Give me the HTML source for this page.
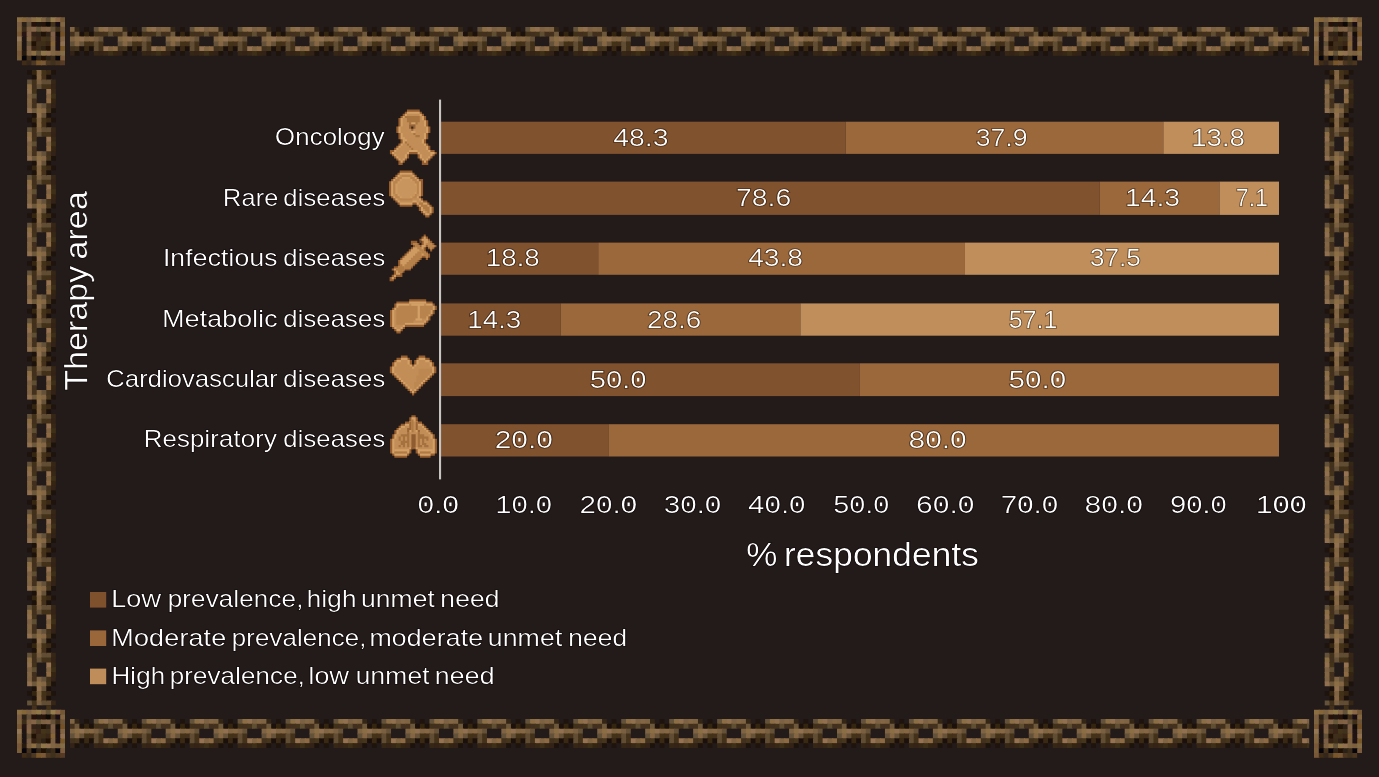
<!DOCTYPE html>
<html><head><meta charset="utf-8"><title>Therapy area chart</title>
<style>
html,body{margin:0;padding:0;background:#231a1a;}
body{width:1379px;height:777px;overflow:hidden;position:relative;}
svg{position:absolute;left:0;top:0;display:block;}
text{font-family:"Liberation Sans",sans-serif;fill:#ffffff;stroke:#0c0606;stroke-opacity:.45;stroke-width:1.3px;paint-order:stroke;}
</style></head><body>
<svg width="1379" height="777" viewBox="0 0 1379 777">
<rect x="0" y="0" width="1379" height="777" fill="#231a1a"/>
<defs>
<g id="ch"><path d="M0 0H5.8V4.8H4.8V5.8H0z" fill="#7f6444"/><path d="M4.8 0H9.6V4.8H9.6V5.8H4.8z" fill="#342614"/><path d="M14.4 0H19.2V4.8H19.2V5.8H14.4z" fill="#1e140d"/><path d="M24 0H29.8V4.8H28.8V5.8H24z" fill="#635139"/><path d="M28.8 0H34.6V4.8H33.6V5.8H28.8z" fill="#8b6e44"/><path d="M33.6 0H39.4V4.8H38.4V5.8H33.6z" fill="#90704f"/><path d="M38.4 0H44.2V4.8H43.2V5.8H38.4z" fill="#7c6142"/><path d="M43.2 0H49V4.8H48V5.8H43.2z" fill="#836643"/><path d="M0 4.8H5.8V9.6H4.8V10.6H0z" fill="#43301d"/><path d="M4.8 4.8H10.6V9.6H9.6V10.6H4.8z" fill="#6e583c"/><path d="M9.6 4.8H15.4V9.6H14.4V10.6H9.6z" fill="#1c120b"/><path d="M14.4 4.8H20.2V9.6H19.2V10.6H14.4z" fill="#342511"/><path d="M19.2 4.8H25V9.6H24V10.6H19.2z" fill="#1c120b"/><path d="M24 4.8H29.8V9.6H28.8V10.6H24z" fill="#42311a"/><path d="M28.8 4.8H34.6V9.6H33.6V10.6H28.8z" fill="#432f1d"/><path d="M33.6 4.8H39.4V9.6H38.4V9.6H33.6z" fill="#43331b"/><path d="M38.4 4.8H44.2V9.6H43.2V9.6H38.4z" fill="#604e33"/><path d="M43.2 4.8H49V9.6H48V9.6H43.2z" fill="#432f1d"/><path d="M0 9.6H5.8V14.4H4.8V15.4H0z" fill="#7f6444"/><path d="M4.8 9.6H10.6V14.4H9.6V15.4H4.8z" fill="#8b6e44"/><path d="M9.6 9.6H15.4V14.4H14.4V15.4H9.6z" fill="#90704f"/><path d="M14.4 9.6H20.2V14.4H19.2V15.4H14.4z" fill="#816542"/><path d="M19.2 9.6H25V14.4H24V15.4H19.2z" fill="#866743"/><path d="M24 9.6H29.8V14.4H28.8V15.4H24z" fill="#7a6041"/><path d="M28.8 9.6H33.6V14.4H33.6V15.4H28.8z" fill="#645138"/><path d="M0 14.4H5.8V19.2H4.8V20.2H0z" fill="#63513a"/><path d="M4.8 14.4H10.6V19.2H9.6V20.2H4.8z" fill="#846644"/><path d="M9.6 14.4H15.4V19.2H14.4V20.2H9.6z" fill="#665239"/><path d="M14.4 14.4H20.2V19.2H19.2V20.2H14.4z" fill="#433218"/><path d="M19.2 14.4H25V19.2H24V20.2H19.2z" fill="#44301b"/><path d="M24 14.4H29.8V19.2H28.8V20.2H24z" fill="#604d34"/><path d="M28.8 14.4H33.6V19.2H33.6V20.2H28.8z" fill="#433219"/><path d="M0 19.2H5.8V24H4.8V25H0z" fill="#40301c"/><path d="M4.8 19.2H10.6V24H9.6V25H4.8z" fill="#44351c"/><path d="M9.6 19.2H15.4V24H14.4V24H9.6z" fill="#1c110a"/><path d="M14.4 19.2H20.2V24H19.2V25H14.4z" fill="#392914"/><path d="M19.2 19.2H25V24H24V24H19.2z" fill="#1c110a"/><path d="M24 19.2H29.8V24H28.8V25H24z" fill="#604d34"/><path d="M28.8 19.2H34.6V24H33.6V25H28.8z" fill="#433219"/><path d="M33.6 19.2H39.4V24H38.4V25H33.6z" fill="#947252"/><path d="M38.4 19.2H44.2V24H43.2V25H38.4z" fill="#816542"/><path d="M43.2 19.2H49V24H48V25H43.2z" fill="#8c6a44"/><path d="M0 24H5.8V28.8H4.8V28.8H0z" fill="#322217"/><path d="M4.8 24H9.6V28.8H9.6V28.8H4.8z" fill="#1c130c"/><path d="M14.4 24H19.2V28.8H19.2V28.8H14.4z" fill="#1e140d"/><path d="M24 24H29.8V28.8H28.8V28.8H24z" fill="#352616"/><path d="M28.8 24H34.6V28.8H33.6V28.8H28.8z" fill="#342316"/><path d="M33.6 24H39.4V28.8H38.4V28.8H33.6z" fill="#372816"/><path d="M38.4 24H44.2V28.8H43.2V28.8H38.4z" fill="#3e3018"/><path d="M43.2 24H49V28.8H48V28.8H43.2z" fill="#342512"/></g>
<g id="cv"><path d="M0 0H5.8V4.8H4.8V5.8H0z" fill="#7f6444"/><path d="M0 4.8H5.8V9.6H4.8V9.6H0z" fill="#90704f"/><path d="M0 14.4H5.8V19.2H4.8V19.2H0z" fill="#1e140d"/><path d="M0 24H5.8V28.8H4.8V29.8H0z" fill="#635139"/><path d="M0 28.8H5.8V33.6H4.8V34.6H0z" fill="#8b6e44"/><path d="M0 33.6H5.8V38.4H4.8V39.4H0z" fill="#90704f"/><path d="M0 38.4H5.8V43.2H4.8V44.2H0z" fill="#7c6142"/><path d="M0 43.2H5.8V48H4.8V49H0z" fill="#836643"/><path d="M4.8 0H10.6V4.8H9.6V5.8H4.8z" fill="#43301d"/><path d="M4.8 4.8H10.6V9.6H9.6V10.6H4.8z" fill="#6e583c"/><path d="M4.8 9.6H10.6V14.4H9.6V15.4H4.8z" fill="#1c120b"/><path d="M4.8 14.4H10.6V19.2H9.6V20.2H4.8z" fill="#342511"/><path d="M4.8 19.2H10.6V24H9.6V25H4.8z" fill="#1c120b"/><path d="M4.8 24H10.6V28.8H9.6V29.8H4.8z" fill="#42311a"/><path d="M4.8 28.8H10.6V33.6H9.6V34.6H4.8z" fill="#432f1d"/><path d="M4.8 33.6H9.6V38.4H9.6V39.4H4.8z" fill="#43331b"/><path d="M4.8 38.4H9.6V43.2H9.6V44.2H4.8z" fill="#604e33"/><path d="M4.8 43.2H9.6V48H9.6V49H4.8z" fill="#432f1d"/><path d="M9.6 0H15.4V4.8H14.4V5.8H9.6z" fill="#7f6444"/><path d="M9.6 4.8H15.4V9.6H14.4V10.6H9.6z" fill="#8b6e44"/><path d="M9.6 9.6H15.4V14.4H14.4V15.4H9.6z" fill="#90704f"/><path d="M9.6 14.4H15.4V19.2H14.4V20.2H9.6z" fill="#816542"/><path d="M9.6 19.2H15.4V24H14.4V25H9.6z" fill="#866743"/><path d="M9.6 24H15.4V28.8H14.4V29.8H9.6z" fill="#7a6041"/><path d="M9.6 28.8H15.4V33.6H14.4V33.6H9.6z" fill="#645138"/><path d="M14.4 0H20.2V4.8H19.2V5.8H14.4z" fill="#63513a"/><path d="M14.4 4.8H20.2V9.6H19.2V10.6H14.4z" fill="#846644"/><path d="M14.4 9.6H20.2V14.4H19.2V15.4H14.4z" fill="#665239"/><path d="M14.4 14.4H20.2V19.2H19.2V20.2H14.4z" fill="#433218"/><path d="M14.4 19.2H20.2V24H19.2V25H14.4z" fill="#44301b"/><path d="M14.4 24H20.2V28.8H19.2V29.8H14.4z" fill="#604d34"/><path d="M14.4 28.8H20.2V33.6H19.2V33.6H14.4z" fill="#433219"/><path d="M19.2 0H25V4.8H24V5.8H19.2z" fill="#40301c"/><path d="M19.2 4.8H25V9.6H24V10.6H19.2z" fill="#44351c"/><path d="M19.2 9.6H24V14.4H24V15.4H19.2z" fill="#1c110a"/><path d="M19.2 14.4H25V19.2H24V20.2H19.2z" fill="#392914"/><path d="M19.2 19.2H24V24H24V25H19.2z" fill="#1c110a"/><path d="M19.2 24H25V28.8H24V29.8H19.2z" fill="#604d34"/><path d="M19.2 28.8H25V33.6H24V34.6H19.2z" fill="#433219"/><path d="M19.2 33.6H25V38.4H24V39.4H19.2z" fill="#947252"/><path d="M19.2 38.4H25V43.2H24V44.2H19.2z" fill="#816542"/><path d="M19.2 43.2H25V48H24V49H19.2z" fill="#8c6a44"/><path d="M24 0H28.8V4.8H28.8V5.8H24z" fill="#322217"/><path d="M24 4.8H28.8V9.6H28.8V9.6H24z" fill="#1c130c"/><path d="M24 14.4H28.8V19.2H28.8V19.2H24z" fill="#1e140d"/><path d="M24 24H28.8V28.8H28.8V29.8H24z" fill="#352616"/><path d="M24 28.8H28.8V33.6H28.8V34.6H24z" fill="#342316"/><path d="M24 33.6H28.8V38.4H28.8V39.4H24z" fill="#372816"/><path d="M24 38.4H28.8V43.2H28.8V44.2H24z" fill="#3e3018"/><path d="M24 43.2H28.8V48H28.8V49H24z" fill="#342512"/></g>
<g id="cl"><path d="M0 0H5.8V4.8H4.8V5.8H0z" fill="#8c6e43"/><path d="M4.8 0H10.6V4.8H9.6V5.8H4.8z" fill="#846639"/><path d="M9.6 0H15.4V4.8H14.4V5.8H9.6z" fill="#7c6142"/><path d="M14.4 0H20.2V4.8H19.2V5.8H14.4z" fill="#8c6e46"/><path d="M19.2 0H25V4.8H24V5.8H19.2z" fill="#907748"/><path d="M24 0H29.8V4.8H28.8V5.8H24z" fill="#816544"/><path d="M28.8 0H34.6V4.8H33.6V5.8H28.8z" fill="#645238"/><path d="M33.6 0H39.4V4.8H38.4V5.8H33.6z" fill="#947c4d"/><path d="M38.4 0H44.2V4.8H43.2V5.8H38.4z" fill="#8b6748"/><path d="M43.2 0H48V4.8H48V5.8H43.2z" fill="#735734"/><path d="M0 4.8H5.8V9.6H4.8V10.6H0z" fill="#7c5f43"/><path d="M4.8 4.8H10.6V9.6H9.6V10.6H4.8z" fill="#2d2217"/><path d="M9.6 4.8H15.4V9.6H14.4V10.6H9.6z" fill="#62513a"/><path d="M14.4 4.8H20.2V9.6H19.2V10.6H14.4z" fill="#26120b"/><path d="M19.2 4.8H25V9.6H24V10.6H19.2z" fill="#201710"/><path d="M24 4.8H29.8V9.6H28.8V10.6H24z" fill="#26130b"/><path d="M28.8 4.8H34.6V9.6H33.6V10.6H28.8z" fill="#0c0906"/><path d="M33.6 4.8H39.4V9.6H38.4V10.6H33.6z" fill="#43311c"/><path d="M38.4 4.8H44.2V9.6H43.2V10.6H38.4z" fill="#1a0e16"/><path d="M43.2 4.8H48V9.6H48V10.6H43.2z" fill="#816641"/><path d="M0 9.6H5.8V14.4H4.8V15.4H0z" fill="#7d633e"/><path d="M4.8 9.6H10.6V14.4H9.6V15.4H4.8z" fill="#3b2b19"/><path d="M9.6 9.6H15.4V14.4H14.4V15.4H9.6z" fill="#7c5f41"/><path d="M14.4 9.6H20.2V14.4H19.2V15.4H14.4z" fill="#856547"/><path d="M19.2 9.6H25V14.4H24V15.4H19.2z" fill="#685639"/><path d="M24 9.6H29.8V14.4H28.8V15.4H24z" fill="#7e6042"/><path d="M28.8 9.6H34.6V14.4H33.6V15.4H28.8z" fill="#826346"/><path d="M33.6 9.6H39.4V14.4H38.4V15.4H33.6z" fill="#645138"/><path d="M38.4 9.6H44.2V14.4H43.2V15.4H38.4z" fill="#3f2f1a"/><path d="M43.2 9.6H48V14.4H48V15.4H43.2z" fill="#6e5436"/><path d="M0 14.4H5.8V19.2H4.8V20.2H0z" fill="#795834"/><path d="M4.8 14.4H10.6V19.2H9.6V20.2H4.8z" fill="#261512"/><path d="M9.6 14.4H15.4V19.2H14.4V20.2H9.6z" fill="#816148"/><path d="M14.4 14.4H20.2V19.2H19.2V20.2H14.4z" fill="#342316"/><path d="M19.2 14.4H25V19.2H24V20.2H19.2z" fill="#302317"/><path d="M24 14.4H29.8V19.2H28.8V20.2H24z" fill="#201206"/><path d="M28.8 14.4H34.6V19.2H33.6V20.2H28.8z" fill="#2e2217"/><path d="M33.6 14.4H39.4V19.2H38.4V20.2H33.6z" fill="#816148"/><path d="M38.4 14.4H44.2V19.2H43.2V20.2H38.4z" fill="#130e0a"/><path d="M43.2 14.4H48V19.2H48V20.2H43.2z" fill="#735026"/><path d="M0 19.2H5.8V24H4.8V25H0z" fill="#947856"/><path d="M4.8 19.2H10.6V24H9.6V25H4.8z" fill="#1f1614"/><path d="M9.6 19.2H15.4V24H14.4V25H9.6z" fill="#846544"/><path d="M14.4 19.2H20.2V24H19.2V25H14.4z" fill="#42301c"/><path d="M19.2 19.2H25V24H24V25H19.2z" fill="#3a2418"/><path d="M24 19.2H29.8V24H28.8V25H24z" fill="#443419"/><path d="M28.8 19.2H34.6V24H33.6V25H28.8z" fill="#3f311b"/><path d="M33.6 19.2H39.4V24H38.4V25H33.6z" fill="#7d5f41"/><path d="M38.4 19.2H44.2V24H43.2V25H38.4z" fill="#1e1214"/><path d="M43.2 19.2H48V24H48V25H43.2z" fill="#816542"/><path d="M0 24H5.8V28.8H4.8V29.8H0z" fill="#846843"/><path d="M4.8 24H10.6V28.8H9.6V29.8H4.8z" fill="#1d1414"/><path d="M9.6 24H15.4V28.8H14.4V29.8H9.6z" fill="#645238"/><path d="M14.4 24H20.2V28.8H19.2V29.8H14.4z" fill="#201104"/><path d="M19.2 24H25V28.8H24V29.8H19.2z" fill="#3f2e1b"/><path d="M24 24H29.8V28.8H28.8V29.8H24z" fill="#3e2e17"/><path d="M28.8 24H34.6V28.8H33.6V29.8H28.8z" fill="#3a2617"/><path d="M33.6 24H39.4V28.8H38.4V29.8H33.6z" fill="#866539"/><path d="M38.4 24H44.2V28.8H43.2V29.8H38.4z" fill="#1e1214"/><path d="M43.2 24H48V28.8H48V29.8H43.2z" fill="#90704f"/><path d="M0 28.8H5.8V33.6H4.8V34.6H0z" fill="#81653f"/><path d="M4.8 28.8H10.6V33.6H9.6V34.6H4.8z" fill="#1d1414"/><path d="M9.6 28.8H15.4V33.6H14.4V34.6H9.6z" fill="#795e43"/><path d="M14.4 28.8H20.2V33.6H19.2V34.6H14.4z" fill="#352215"/><path d="M19.2 28.8H25V33.6H24V34.6H19.2z" fill="#3b2b17"/><path d="M24 28.8H29.8V33.6H28.8V34.6H24z" fill="#2e2217"/><path d="M28.8 28.8H34.6V33.6H33.6V34.6H28.8z" fill="#201104"/><path d="M33.6 28.8H39.4V33.6H38.4V34.6H33.6z" fill="#7c6142"/><path d="M38.4 28.8H44.2V33.6H43.2V34.6H38.4z" fill="#1e1214"/><path d="M43.2 28.8H48V33.6H48V34.6H43.2z" fill="#795829"/><path d="M0 33.6H5.8V38.4H4.8V39.4H0z" fill="#795839"/><path d="M4.8 33.6H10.6V38.4H9.6V39.4H4.8z" fill="#26190e"/><path d="M9.6 33.6H15.4V38.4H14.4V39.4H9.6z" fill="#7c6142"/><path d="M14.4 33.6H20.2V38.4H19.2V39.4H14.4z" fill="#8c6e43"/><path d="M19.2 33.6H25V38.4H24V39.4H19.2z" fill="#645238"/><path d="M24 33.6H29.8V38.4H28.8V39.4H24z" fill="#907548"/><path d="M28.8 33.6H34.6V38.4H33.6V39.4H28.8z" fill="#90704f"/><path d="M33.6 33.6H39.4V38.4H38.4V39.4H33.6z" fill="#816644"/><path d="M38.4 33.6H44.2V38.4H43.2V39.4H38.4z" fill="#7c5f3d"/><path d="M43.2 33.6H48V38.4H48V39.4H43.2z" fill="#846c46"/><path d="M0 38.4H5.8V43.2H4.8V43.2H0z" fill="#795e39"/><path d="M4.8 38.4H10.6V43.2H9.6V44.2H4.8z" fill="#07050c"/><path d="M9.6 38.4H15.4V43.2H14.4V44.2H9.6z" fill="#43311c"/><path d="M14.4 38.4H20.2V43.2H19.2V44.2H14.4z" fill="#07050c"/><path d="M19.2 38.4H25V43.2H24V44.2H19.2z" fill="#302317"/><path d="M24 38.4H29.8V43.2H28.8V44.2H24z" fill="#201104"/><path d="M28.8 38.4H34.6V43.2H33.6V44.2H28.8z" fill="#2a2217"/><path d="M33.6 38.4H39.4V43.2H38.4V44.2H33.6z" fill="#3b2b19"/><path d="M38.4 38.4H44.2V43.2H43.2V44.2H38.4z" fill="#07050c"/><path d="M43.2 38.4H48V43.2H48V44.2H43.2z" fill="#7c5c3d"/><path d="M4.8 43.2H10.6V48H9.6V48H4.8z" fill="#402c17"/><path d="M9.6 43.2H15.4V48H14.4V48H9.6z" fill="#34261b"/><path d="M14.4 43.2H20.2V48H19.2V48H14.4z" fill="#4c3721"/><path d="M19.2 43.2H25V48H24V48H19.2z" fill="#79562a"/><path d="M24 43.2H29.8V48H28.8V48H24z" fill="#795836"/><path d="M28.8 43.2H34.6V48H33.6V48H28.8z" fill="#4c361f"/><path d="M33.6 43.2H39.4V48H38.4V48H33.6z" fill="#3f311c"/><path d="M38.4 43.2H44.2V48H43.2V48H38.4z" fill="#4c361f"/><path d="M43.2 43.2H48V48H48V48H43.2z" fill="#563a24"/></g>
<g id="cr"><path d="M0 0H5.8V4.8H4.8V5.8H0z" fill="#8c6e43"/><path d="M4.8 0H10.6V4.8H9.6V5.8H4.8z" fill="#846639"/><path d="M9.6 0H15.4V4.8H14.4V5.8H9.6z" fill="#7c6142"/><path d="M14.4 0H20.2V4.8H19.2V5.8H14.4z" fill="#8c6e46"/><path d="M19.2 0H25V4.8H24V5.8H19.2z" fill="#907748"/><path d="M24 0H29.8V4.8H28.8V5.8H24z" fill="#816544"/><path d="M28.8 0H34.6V4.8H33.6V5.8H28.8z" fill="#645238"/><path d="M33.6 0H39.4V4.8H38.4V5.8H33.6z" fill="#947c4d"/><path d="M38.4 0H44.2V4.8H43.2V5.8H38.4z" fill="#8b6748"/><path d="M43.2 0H48V4.8H48V5.8H43.2z" fill="#735734"/><path d="M0 4.8H5.8V9.6H4.8V10.6H0z" fill="#7c5f43"/><path d="M4.8 4.8H10.6V9.6H9.6V10.6H4.8z" fill="#2d2217"/><path d="M9.6 4.8H15.4V9.6H14.4V10.6H9.6z" fill="#62513a"/><path d="M14.4 4.8H20.2V9.6H19.2V10.6H14.4z" fill="#26120b"/><path d="M19.2 4.8H25V9.6H24V10.6H19.2z" fill="#201710"/><path d="M24 4.8H29.8V9.6H28.8V10.6H24z" fill="#26130b"/><path d="M28.8 4.8H34.6V9.6H33.6V10.6H28.8z" fill="#0c0906"/><path d="M33.6 4.8H39.4V9.6H38.4V10.6H33.6z" fill="#43311c"/><path d="M38.4 4.8H44.2V9.6H43.2V10.6H38.4z" fill="#1a0e16"/><path d="M43.2 4.8H48V9.6H48V10.6H43.2z" fill="#816641"/><path d="M0 9.6H5.8V14.4H4.8V15.4H0z" fill="#7d633e"/><path d="M4.8 9.6H10.6V14.4H9.6V15.4H4.8z" fill="#3b2b19"/><path d="M9.6 9.6H15.4V14.4H14.4V15.4H9.6z" fill="#7c5f41"/><path d="M14.4 9.6H20.2V14.4H19.2V15.4H14.4z" fill="#856547"/><path d="M19.2 9.6H25V14.4H24V15.4H19.2z" fill="#685639"/><path d="M24 9.6H29.8V14.4H28.8V15.4H24z" fill="#7e6042"/><path d="M28.8 9.6H34.6V14.4H33.6V15.4H28.8z" fill="#826346"/><path d="M33.6 9.6H39.4V14.4H38.4V15.4H33.6z" fill="#645138"/><path d="M38.4 9.6H44.2V14.4H43.2V15.4H38.4z" fill="#3f2f1a"/><path d="M43.2 9.6H48V14.4H48V15.4H43.2z" fill="#6e5436"/><path d="M0 14.4H5.8V19.2H4.8V20.2H0z" fill="#795834"/><path d="M4.8 14.4H10.6V19.2H9.6V20.2H4.8z" fill="#261512"/><path d="M9.6 14.4H15.4V19.2H14.4V20.2H9.6z" fill="#816148"/><path d="M14.4 14.4H20.2V19.2H19.2V20.2H14.4z" fill="#342316"/><path d="M19.2 14.4H25V19.2H24V20.2H19.2z" fill="#302317"/><path d="M24 14.4H29.8V19.2H28.8V20.2H24z" fill="#201206"/><path d="M28.8 14.4H34.6V19.2H33.6V20.2H28.8z" fill="#2e2217"/><path d="M33.6 14.4H39.4V19.2H38.4V20.2H33.6z" fill="#816148"/><path d="M38.4 14.4H44.2V19.2H43.2V20.2H38.4z" fill="#130e0a"/><path d="M43.2 14.4H48V19.2H48V20.2H43.2z" fill="#735026"/><path d="M0 19.2H5.8V24H4.8V25H0z" fill="#947856"/><path d="M4.8 19.2H10.6V24H9.6V25H4.8z" fill="#1f1614"/><path d="M9.6 19.2H15.4V24H14.4V25H9.6z" fill="#846544"/><path d="M14.4 19.2H20.2V24H19.2V25H14.4z" fill="#42301c"/><path d="M19.2 19.2H25V24H24V25H19.2z" fill="#3a2418"/><path d="M24 19.2H29.8V24H28.8V25H24z" fill="#443419"/><path d="M28.8 19.2H34.6V24H33.6V25H28.8z" fill="#3f311b"/><path d="M33.6 19.2H39.4V24H38.4V25H33.6z" fill="#7d5f41"/><path d="M38.4 19.2H44.2V24H43.2V25H38.4z" fill="#1e1214"/><path d="M43.2 19.2H48V24H48V25H43.2z" fill="#816542"/><path d="M0 24H5.8V28.8H4.8V29.8H0z" fill="#846843"/><path d="M4.8 24H10.6V28.8H9.6V29.8H4.8z" fill="#1d1414"/><path d="M9.6 24H15.4V28.8H14.4V29.8H9.6z" fill="#645238"/><path d="M14.4 24H20.2V28.8H19.2V29.8H14.4z" fill="#201104"/><path d="M19.2 24H25V28.8H24V29.8H19.2z" fill="#3f2e1b"/><path d="M24 24H29.8V28.8H28.8V29.8H24z" fill="#3e2e17"/><path d="M28.8 24H34.6V28.8H33.6V29.8H28.8z" fill="#3a2617"/><path d="M33.6 24H39.4V28.8H38.4V29.8H33.6z" fill="#866539"/><path d="M38.4 24H44.2V28.8H43.2V29.8H38.4z" fill="#1e1214"/><path d="M43.2 24H48V28.8H48V29.8H43.2z" fill="#90704f"/><path d="M0 28.8H5.8V33.6H4.8V34.6H0z" fill="#81653f"/><path d="M4.8 28.8H10.6V33.6H9.6V34.6H4.8z" fill="#1d1414"/><path d="M9.6 28.8H15.4V33.6H14.4V34.6H9.6z" fill="#795e43"/><path d="M14.4 28.8H20.2V33.6H19.2V34.6H14.4z" fill="#352215"/><path d="M19.2 28.8H25V33.6H24V34.6H19.2z" fill="#3b2b17"/><path d="M24 28.8H29.8V33.6H28.8V34.6H24z" fill="#2e2217"/><path d="M28.8 28.8H34.6V33.6H33.6V34.6H28.8z" fill="#201104"/><path d="M33.6 28.8H39.4V33.6H38.4V34.6H33.6z" fill="#7c6142"/><path d="M38.4 28.8H44.2V33.6H43.2V34.6H38.4z" fill="#1e1214"/><path d="M43.2 28.8H48V33.6H48V34.6H43.2z" fill="#795829"/><path d="M0 33.6H5.8V38.4H4.8V39.4H0z" fill="#795839"/><path d="M4.8 33.6H10.6V38.4H9.6V39.4H4.8z" fill="#26190e"/><path d="M9.6 33.6H15.4V38.4H14.4V39.4H9.6z" fill="#7c6142"/><path d="M14.4 33.6H20.2V38.4H19.2V39.4H14.4z" fill="#8c6e43"/><path d="M19.2 33.6H25V38.4H24V39.4H19.2z" fill="#645238"/><path d="M24 33.6H29.8V38.4H28.8V39.4H24z" fill="#907548"/><path d="M28.8 33.6H34.6V38.4H33.6V39.4H28.8z" fill="#90704f"/><path d="M33.6 33.6H39.4V38.4H38.4V39.4H33.6z" fill="#816644"/><path d="M38.4 33.6H44.2V38.4H43.2V39.4H38.4z" fill="#7c5f3d"/><path d="M43.2 33.6H48V38.4H48V39.4H43.2z" fill="#846c46"/><path d="M0 38.4H5.8V43.2H4.8V44.2H0z" fill="#795e39"/><path d="M4.8 38.4H10.6V43.2H9.6V44.2H4.8z" fill="#07050c"/><path d="M9.6 38.4H15.4V43.2H14.4V44.2H9.6z" fill="#43311c"/><path d="M14.4 38.4H20.2V43.2H19.2V44.2H14.4z" fill="#07050c"/><path d="M19.2 38.4H25V43.2H24V44.2H19.2z" fill="#302317"/><path d="M24 38.4H29.8V43.2H28.8V44.2H24z" fill="#201104"/><path d="M28.8 38.4H34.6V43.2H33.6V44.2H28.8z" fill="#2a2217"/><path d="M33.6 38.4H39.4V43.2H38.4V44.2H33.6z" fill="#3b2b19"/><path d="M38.4 38.4H44.2V43.2H43.2V44.2H38.4z" fill="#07050c"/><path d="M43.2 38.4H48V43.2H48V43.2H43.2z" fill="#7c5c3d"/><path d="M0 43.2H5.8V48H4.8V48H0z" fill="#795839"/><path d="M4.8 43.2H10.6V48H9.6V48H4.8z" fill="#402c17"/><path d="M9.6 43.2H15.4V48H14.4V48H9.6z" fill="#34261b"/><path d="M14.4 43.2H20.2V48H19.2V48H14.4z" fill="#4c3721"/><path d="M19.2 43.2H25V48H24V48H19.2z" fill="#79562a"/><path d="M24 43.2H29.8V48H28.8V48H24z" fill="#795836"/><path d="M28.8 43.2H34.6V48H33.6V48H28.8z" fill="#4c361f"/><path d="M33.6 43.2H39.4V48H38.4V48H33.6z" fill="#3f311c"/><path d="M38.4 43.2H43.2V48H43.2V48H38.4z" fill="#4c361f"/></g>
<clipPath id="kh"><rect x="69.8" y="0" width="1239.4" height="777"/></clipPath>
<clipPath id="kv"><rect x="0" y="69.9" width="1379" height="635.4"/></clipPath>
</defs>
<g id="border">
<g clip-path="url(#kh)"><use href="#ch" transform="translate(69.8,26.9) scale(0.99896,1.006)"/><use href="#ch" transform="translate(117.75,26.9) scale(0.99896,1.006)"/><use href="#ch" transform="translate(165.7,26.9) scale(0.99896,1.006)"/><use href="#ch" transform="translate(213.65,26.9) scale(0.99896,1.006)"/><use href="#ch" transform="translate(261.6,26.9) scale(0.99896,1.006)"/><use href="#ch" transform="translate(309.55,26.9) scale(0.99896,1.006)"/><use href="#ch" transform="translate(357.5,26.9) scale(0.99896,1.006)"/><use href="#ch" transform="translate(405.45,26.9) scale(0.99896,1.006)"/><use href="#ch" transform="translate(453.4,26.9) scale(0.99896,1.006)"/><use href="#ch" transform="translate(501.35,26.9) scale(0.99896,1.006)"/><use href="#ch" transform="translate(549.3,26.9) scale(0.99896,1.006)"/><use href="#ch" transform="translate(597.25,26.9) scale(0.99896,1.006)"/><use href="#ch" transform="translate(645.2,26.9) scale(0.99896,1.006)"/><use href="#ch" transform="translate(693.15,26.9) scale(0.99896,1.006)"/><use href="#ch" transform="translate(741.1,26.9) scale(0.99896,1.006)"/><use href="#ch" transform="translate(789.05,26.9) scale(0.99896,1.006)"/><use href="#ch" transform="translate(837,26.9) scale(0.99896,1.006)"/><use href="#ch" transform="translate(884.95,26.9) scale(0.99896,1.006)"/><use href="#ch" transform="translate(932.9,26.9) scale(0.99896,1.006)"/><use href="#ch" transform="translate(980.85,26.9) scale(0.99896,1.006)"/><use href="#ch" transform="translate(1028.8,26.9) scale(0.99896,1.006)"/><use href="#ch" transform="translate(1076.75,26.9) scale(0.99896,1.006)"/><use href="#ch" transform="translate(1124.7,26.9) scale(0.99896,1.006)"/><use href="#ch" transform="translate(1172.65,26.9) scale(0.99896,1.006)"/><use href="#ch" transform="translate(1220.6,26.9) scale(0.99896,1.006)"/><use href="#ch" transform="translate(1268.55,26.9) scale(0.99896,1.006)"/></g>
<g clip-path="url(#kh)"><use href="#ch" transform="translate(69.8,719) scale(0.99896,1.006)"/><use href="#ch" transform="translate(117.75,719) scale(0.99896,1.006)"/><use href="#ch" transform="translate(165.7,719) scale(0.99896,1.006)"/><use href="#ch" transform="translate(213.65,719) scale(0.99896,1.006)"/><use href="#ch" transform="translate(261.6,719) scale(0.99896,1.006)"/><use href="#ch" transform="translate(309.55,719) scale(0.99896,1.006)"/><use href="#ch" transform="translate(357.5,719) scale(0.99896,1.006)"/><use href="#ch" transform="translate(405.45,719) scale(0.99896,1.006)"/><use href="#ch" transform="translate(453.4,719) scale(0.99896,1.006)"/><use href="#ch" transform="translate(501.35,719) scale(0.99896,1.006)"/><use href="#ch" transform="translate(549.3,719) scale(0.99896,1.006)"/><use href="#ch" transform="translate(597.25,719) scale(0.99896,1.006)"/><use href="#ch" transform="translate(645.2,719) scale(0.99896,1.006)"/><use href="#ch" transform="translate(693.15,719) scale(0.99896,1.006)"/><use href="#ch" transform="translate(741.1,719) scale(0.99896,1.006)"/><use href="#ch" transform="translate(789.05,719) scale(0.99896,1.006)"/><use href="#ch" transform="translate(837,719) scale(0.99896,1.006)"/><use href="#ch" transform="translate(884.95,719) scale(0.99896,1.006)"/><use href="#ch" transform="translate(932.9,719) scale(0.99896,1.006)"/><use href="#ch" transform="translate(980.85,719) scale(0.99896,1.006)"/><use href="#ch" transform="translate(1028.8,719) scale(0.99896,1.006)"/><use href="#ch" transform="translate(1076.75,719) scale(0.99896,1.006)"/><use href="#ch" transform="translate(1124.7,719) scale(0.99896,1.006)"/><use href="#ch" transform="translate(1172.65,719) scale(0.99896,1.006)"/><use href="#ch" transform="translate(1220.6,719) scale(0.99896,1.006)"/><use href="#ch" transform="translate(1268.55,719) scale(0.99896,1.006)"/></g>
<g clip-path="url(#kv)"><use href="#cv" transform="translate(27.1,55.57) scale(1,0.99542)"/><use href="#cv" transform="translate(27.1,103.35) scale(1,0.99542)"/><use href="#cv" transform="translate(27.1,151.13) scale(1,0.99542)"/><use href="#cv" transform="translate(27.1,198.91) scale(1,0.99542)"/><use href="#cv" transform="translate(27.1,246.69) scale(1,0.99542)"/><use href="#cv" transform="translate(27.1,294.47) scale(1,0.99542)"/><use href="#cv" transform="translate(27.1,342.25) scale(1,0.99542)"/><use href="#cv" transform="translate(27.1,390.03) scale(1,0.99542)"/><use href="#cv" transform="translate(27.1,437.81) scale(1,0.99542)"/><use href="#cv" transform="translate(27.1,485.59) scale(1,0.99542)"/><use href="#cv" transform="translate(27.1,533.37) scale(1,0.99542)"/><use href="#cv" transform="translate(27.1,581.15) scale(1,0.99542)"/><use href="#cv" transform="translate(27.1,628.93) scale(1,0.99542)"/><use href="#cv" transform="translate(27.1,676.71) scale(1,0.99542)"/></g>
<g><rect x="31.9" y="705.3" width="4.8" height="4.4" fill="#43301d"/><rect x="46.3" y="705.3" width="4.8" height="4.4" fill="#433219"/></g>
<g clip-path="url(#kv)"><use href="#cv" transform="translate(1324.7,55.57) scale(1,0.99542)"/><use href="#cv" transform="translate(1324.7,103.35) scale(1,0.99542)"/><use href="#cv" transform="translate(1324.7,151.13) scale(1,0.99542)"/><use href="#cv" transform="translate(1324.7,198.91) scale(1,0.99542)"/><use href="#cv" transform="translate(1324.7,246.69) scale(1,0.99542)"/><use href="#cv" transform="translate(1324.7,294.47) scale(1,0.99542)"/><use href="#cv" transform="translate(1324.7,342.25) scale(1,0.99542)"/><use href="#cv" transform="translate(1324.7,390.03) scale(1,0.99542)"/><use href="#cv" transform="translate(1324.7,437.81) scale(1,0.99542)"/><use href="#cv" transform="translate(1324.7,485.59) scale(1,0.99542)"/><use href="#cv" transform="translate(1324.7,533.37) scale(1,0.99542)"/><use href="#cv" transform="translate(1324.7,581.15) scale(1,0.99542)"/><use href="#cv" transform="translate(1324.7,628.93) scale(1,0.99542)"/><use href="#cv" transform="translate(1324.7,676.71) scale(1,0.99542)"/></g>
<g><rect x="1329.5" y="705.3" width="4.8" height="4.4" fill="#43301d"/><rect x="1343.9" y="705.3" width="4.8" height="4.4" fill="#433219"/></g>
<use href="#cl" x="17" y="17.25"/><use href="#cr" x="1314" y="17.25"/><use href="#cl" x="17" y="709.8"/><use href="#cr" x="1314" y="709.8"/>
</g>
<g id="bars">
<rect x="440.8" y="121.7" width="404.85" height="32.2" fill="#80522e"/><rect x="845.65" y="121.7" width="317.68" height="32.2" fill="#9b683b"/><rect x="1163.33" y="121.7" width="115.67" height="32.2" fill="#bf8e5b"/>
<rect x="440.8" y="181.6" width="658.83" height="33.3" fill="#80522e"/><rect x="1099.63" y="181.6" width="119.86" height="33.3" fill="#9b683b"/><rect x="1219.49" y="181.6" width="59.51" height="33.3" fill="#bf8e5b"/>
<rect x="440.8" y="242.6" width="157.42" height="32.2" fill="#80522e"/><rect x="598.22" y="242.6" width="366.76" height="32.2" fill="#9b683b"/><rect x="964.99" y="242.6" width="314.01" height="32.2" fill="#bf8e5b"/>
<rect x="440.8" y="303.4" width="119.86" height="32.3" fill="#80522e"/><rect x="560.66" y="303.4" width="239.73" height="32.3" fill="#9b683b"/><rect x="800.39" y="303.4" width="478.61" height="32.3" fill="#bf8e5b"/>
<rect x="440.8" y="363.3" width="419.1" height="32.8" fill="#80522e"/><rect x="859.9" y="363.3" width="419.1" height="32.8" fill="#9b683b"/>
<rect x="440.8" y="424.2" width="167.64" height="32.3" fill="#80522e"/><rect x="608.44" y="424.2" width="670.56" height="32.3" fill="#9b683b"/>
</g>
<rect x="439" y="99.6" width="2.1" height="379.8" fill="#c6c3c0"/>
<g id="labels" opacity="0.999">
<text x="275" y="145" font-size="24" textLength="109.5" lengthAdjust="spacingAndGlyphs" style="fill:none">Oncology</text><clipPath id="kcat0"><text x="275.12" y="145" font-size="24" textLength="109.5" lengthAdjust="spacingAndGlyphs" style="stroke:none">Oncology</text></clipPath><g clip-path="url(#kcat0)"><text id="cat0" x="274.88" y="145" font-size="24" textLength="109.5" lengthAdjust="spacingAndGlyphs" style="stroke:none">Oncology</text></g>
<text x="222.9" y="205.6" font-size="24" textLength="55.4" lengthAdjust="spacingAndGlyphs" style="fill:none">Rare</text><clipPath id="kcat1"><text x="223.02" y="205.6" font-size="24" textLength="55.4" lengthAdjust="spacingAndGlyphs" style="stroke:none">Rare</text></clipPath><g clip-path="url(#kcat1)"><text id="cat1" x="222.77" y="205.6" font-size="24" textLength="55.4" lengthAdjust="spacingAndGlyphs" style="stroke:none">Rare</text></g>
<text x="283.2" y="205.6" font-size="24" textLength="102" lengthAdjust="spacingAndGlyphs" style="fill:none">diseases</text><clipPath id="kdis1"><text x="283.32" y="205.6" font-size="24" textLength="102" lengthAdjust="spacingAndGlyphs" style="stroke:none">diseases</text></clipPath><g clip-path="url(#kdis1)"><text id="dis1" x="283.07" y="205.6" font-size="24" textLength="102" lengthAdjust="spacingAndGlyphs" style="stroke:none">diseases</text></g>
<text x="162.8" y="265.6" font-size="24" textLength="114.8" lengthAdjust="spacingAndGlyphs" style="fill:none">Infectious</text><clipPath id="kcat2"><text x="162.93" y="265.6" font-size="24" textLength="114.8" lengthAdjust="spacingAndGlyphs" style="stroke:none">Infectious</text></clipPath><g clip-path="url(#kcat2)"><text id="cat2" x="162.68" y="265.6" font-size="24" textLength="114.8" lengthAdjust="spacingAndGlyphs" style="stroke:none">Infectious</text></g>
<text x="283.2" y="265.6" font-size="24" textLength="102" lengthAdjust="spacingAndGlyphs" style="fill:none">diseases</text><clipPath id="kdis2"><text x="283.32" y="265.6" font-size="24" textLength="102" lengthAdjust="spacingAndGlyphs" style="stroke:none">diseases</text></clipPath><g clip-path="url(#kdis2)"><text id="dis2" x="283.07" y="265.6" font-size="24" textLength="102" lengthAdjust="spacingAndGlyphs" style="stroke:none">diseases</text></g>
<text x="162.2" y="326.6" font-size="24" textLength="115.3" lengthAdjust="spacingAndGlyphs" style="fill:none">Metabolic</text><clipPath id="kcat3"><text x="162.33" y="326.6" font-size="24" textLength="115.3" lengthAdjust="spacingAndGlyphs" style="stroke:none">Metabolic</text></clipPath><g clip-path="url(#kcat3)"><text id="cat3" x="162.08" y="326.6" font-size="24" textLength="115.3" lengthAdjust="spacingAndGlyphs" style="stroke:none">Metabolic</text></g>
<text x="283.2" y="326.6" font-size="24" textLength="102" lengthAdjust="spacingAndGlyphs" style="fill:none">diseases</text><clipPath id="kdis3"><text x="283.32" y="326.6" font-size="24" textLength="102" lengthAdjust="spacingAndGlyphs" style="stroke:none">diseases</text></clipPath><g clip-path="url(#kdis3)"><text id="dis3" x="283.07" y="326.6" font-size="24" textLength="102" lengthAdjust="spacingAndGlyphs" style="stroke:none">diseases</text></g>
<text x="106.2" y="387.2" font-size="24" textLength="171.5" lengthAdjust="spacingAndGlyphs" style="fill:none">Cardiovascular</text><clipPath id="kcat4"><text x="106.32" y="387.2" font-size="24" textLength="171.5" lengthAdjust="spacingAndGlyphs" style="stroke:none">Cardiovascular</text></clipPath><g clip-path="url(#kcat4)"><text id="cat4" x="106.07" y="387.2" font-size="24" textLength="171.5" lengthAdjust="spacingAndGlyphs" style="stroke:none">Cardiovascular</text></g>
<text x="283.2" y="387.2" font-size="24" textLength="102" lengthAdjust="spacingAndGlyphs" style="fill:none">diseases</text><clipPath id="kdis4"><text x="283.32" y="387.2" font-size="24" textLength="102" lengthAdjust="spacingAndGlyphs" style="stroke:none">diseases</text></clipPath><g clip-path="url(#kdis4)"><text id="dis4" x="283.07" y="387.2" font-size="24" textLength="102" lengthAdjust="spacingAndGlyphs" style="stroke:none">diseases</text></g>
<text x="143.6" y="447.2" font-size="24" textLength="133.3" lengthAdjust="spacingAndGlyphs" style="fill:none">Respiratory</text><clipPath id="kcat5"><text x="143.72" y="447.2" font-size="24" textLength="133.3" lengthAdjust="spacingAndGlyphs" style="stroke:none">Respiratory</text></clipPath><g clip-path="url(#kcat5)"><text id="cat5" x="143.47" y="447.2" font-size="24" textLength="133.3" lengthAdjust="spacingAndGlyphs" style="stroke:none">Respiratory</text></g>
<text x="283.2" y="447.2" font-size="24" textLength="102" lengthAdjust="spacingAndGlyphs" style="fill:none">diseases</text><clipPath id="kdis5"><text x="283.32" y="447.2" font-size="24" textLength="102" lengthAdjust="spacingAndGlyphs" style="stroke:none">diseases</text></clipPath><g clip-path="url(#kdis5)"><text id="dis5" x="283.07" y="447.2" font-size="24" textLength="102" lengthAdjust="spacingAndGlyphs" style="stroke:none">diseases</text></g>
<text x="613.2" y="145.6" font-size="24" textLength="55.3" lengthAdjust="spacingAndGlyphs" style="fill:none">48.3</text><clipPath id="kv0_0"><text x="613.43" y="145.6" font-size="24" textLength="55.3" lengthAdjust="spacingAndGlyphs" style="stroke:none">48.3</text></clipPath><g clip-path="url(#kv0_0)"><text id="v0_0" x="612.98" y="145.6" font-size="24" textLength="55.3" lengthAdjust="spacingAndGlyphs" style="stroke:none">48.3</text></g>
<text x="975.8" y="145.6" font-size="24" textLength="51.8" lengthAdjust="spacingAndGlyphs" style="fill:none">37.9</text><clipPath id="kv0_1"><text x="976.02" y="145.6" font-size="24" textLength="51.8" lengthAdjust="spacingAndGlyphs" style="stroke:none">37.9</text></clipPath><g clip-path="url(#kv0_1)"><text id="v0_1" x="975.57" y="145.6" font-size="24" textLength="51.8" lengthAdjust="spacingAndGlyphs" style="stroke:none">37.9</text></g>
<text x="1191.2" y="145.6" font-size="24" textLength="53.7" lengthAdjust="spacingAndGlyphs" style="fill:none">13.8</text><clipPath id="kv0_2"><text x="1191.42" y="145.6" font-size="24" textLength="53.7" lengthAdjust="spacingAndGlyphs" style="stroke:none">13.8</text></clipPath><g clip-path="url(#kv0_2)"><text id="v0_2" x="1190.98" y="145.6" font-size="24" textLength="53.7" lengthAdjust="spacingAndGlyphs" style="stroke:none">13.8</text></g>
<text x="736.1" y="206.4" font-size="24" textLength="55.1" lengthAdjust="spacingAndGlyphs" style="fill:none">78.6</text><clipPath id="kv1_0"><text x="736.33" y="206.4" font-size="24" textLength="55.1" lengthAdjust="spacingAndGlyphs" style="stroke:none">78.6</text></clipPath><g clip-path="url(#kv1_0)"><text id="v1_0" x="735.88" y="206.4" font-size="24" textLength="55.1" lengthAdjust="spacingAndGlyphs" style="stroke:none">78.6</text></g>
<text x="1125" y="206.4" font-size="24" textLength="55" lengthAdjust="spacingAndGlyphs" style="fill:none">14.3</text><clipPath id="kv1_1"><text x="1125.22" y="206.4" font-size="24" textLength="55" lengthAdjust="spacingAndGlyphs" style="stroke:none">14.3</text></clipPath><g clip-path="url(#kv1_1)"><text id="v1_1" x="1124.78" y="206.4" font-size="24" textLength="55" lengthAdjust="spacingAndGlyphs" style="stroke:none">14.3</text></g>
<text x="1235.7" y="206.4" font-size="24" textLength="32.3" lengthAdjust="spacingAndGlyphs" style="fill:none">7.1</text><clipPath id="kv1_2"><text x="1235.92" y="206.4" font-size="24" textLength="32.3" lengthAdjust="spacingAndGlyphs" style="stroke:none">7.1</text></clipPath><g clip-path="url(#kv1_2)"><text id="v1_2" x="1235.47" y="206.4" font-size="24" textLength="32.3" lengthAdjust="spacingAndGlyphs" style="stroke:none">7.1</text></g>
<text x="485.8" y="266.4" font-size="24" textLength="54" lengthAdjust="spacingAndGlyphs" style="fill:none">18.8</text><clipPath id="kv2_0"><text x="486.03" y="266.4" font-size="24" textLength="54" lengthAdjust="spacingAndGlyphs" style="stroke:none">18.8</text></clipPath><g clip-path="url(#kv2_0)"><text id="v2_0" x="485.57" y="266.4" font-size="24" textLength="54" lengthAdjust="spacingAndGlyphs" style="stroke:none">18.8</text></g>
<text x="748.2" y="266.4" font-size="24" textLength="54.8" lengthAdjust="spacingAndGlyphs" style="fill:none">43.8</text><clipPath id="kv2_1"><text x="748.43" y="266.4" font-size="24" textLength="54.8" lengthAdjust="spacingAndGlyphs" style="stroke:none">43.8</text></clipPath><g clip-path="url(#kv2_1)"><text id="v2_1" x="747.98" y="266.4" font-size="24" textLength="54.8" lengthAdjust="spacingAndGlyphs" style="stroke:none">43.8</text></g>
<text x="1089.9" y="266.4" font-size="24" textLength="50.9" lengthAdjust="spacingAndGlyphs" style="fill:none">37.5</text><clipPath id="kv2_2"><text x="1090.12" y="266.4" font-size="24" textLength="50.9" lengthAdjust="spacingAndGlyphs" style="stroke:none">37.5</text></clipPath><g clip-path="url(#kv2_2)"><text id="v2_2" x="1089.68" y="266.4" font-size="24" textLength="50.9" lengthAdjust="spacingAndGlyphs" style="stroke:none">37.5</text></g>
<text x="467.2" y="327.5" font-size="24" textLength="54.1" lengthAdjust="spacingAndGlyphs" style="fill:none">14.3</text><clipPath id="kv3_0"><text x="467.43" y="327.5" font-size="24" textLength="54.1" lengthAdjust="spacingAndGlyphs" style="stroke:none">14.3</text></clipPath><g clip-path="url(#kv3_0)"><text id="v3_0" x="466.97" y="327.5" font-size="24" textLength="54.1" lengthAdjust="spacingAndGlyphs" style="stroke:none">14.3</text></g>
<text x="647" y="327.5" font-size="24" textLength="54.2" lengthAdjust="spacingAndGlyphs" style="fill:none">28.6</text><clipPath id="kv3_1"><text x="647.23" y="327.5" font-size="24" textLength="54.2" lengthAdjust="spacingAndGlyphs" style="stroke:none">28.6</text></clipPath><g clip-path="url(#kv3_1)"><text id="v3_1" x="646.77" y="327.5" font-size="24" textLength="54.2" lengthAdjust="spacingAndGlyphs" style="stroke:none">28.6</text></g>
<text x="1008.8" y="327.5" font-size="24" textLength="48.5" lengthAdjust="spacingAndGlyphs" style="fill:none">57.1</text><clipPath id="kv3_2"><text x="1009.03" y="327.5" font-size="24" textLength="48.5" lengthAdjust="spacingAndGlyphs" style="stroke:none">57.1</text></clipPath><g clip-path="url(#kv3_2)"><text id="v3_2" x="1008.58" y="327.5" font-size="24" textLength="48.5" lengthAdjust="spacingAndGlyphs" style="stroke:none">57.1</text></g>
<text x="589.7" y="388.3" font-size="24" textLength="56.8" lengthAdjust="spacingAndGlyphs" style="fill:none">50.0</text><clipPath id="kv4_0"><text x="589.92" y="388.3" font-size="24" textLength="56.8" lengthAdjust="spacingAndGlyphs" style="stroke:none">50.0</text></clipPath><g clip-path="url(#kv4_0)"><text id="v4_0" x="589.47" y="388.3" font-size="24" textLength="56.8" lengthAdjust="spacingAndGlyphs" style="stroke:none">50.0</text></g>
<text x="1008.6" y="388.3" font-size="24" textLength="57.5" lengthAdjust="spacingAndGlyphs" style="fill:none">50.0</text><clipPath id="kv4_1"><text x="1008.83" y="388.3" font-size="24" textLength="57.5" lengthAdjust="spacingAndGlyphs" style="stroke:none">50.0</text></clipPath><g clip-path="url(#kv4_1)"><text id="v4_1" x="1008.38" y="388.3" font-size="24" textLength="57.5" lengthAdjust="spacingAndGlyphs" style="stroke:none">50.0</text></g>
<text x="494.7" y="448.3" font-size="24" textLength="58.2" lengthAdjust="spacingAndGlyphs" style="fill:none">20.0</text><clipPath id="kv5_0"><text x="494.93" y="448.3" font-size="24" textLength="58.2" lengthAdjust="spacingAndGlyphs" style="stroke:none">20.0</text></clipPath><g clip-path="url(#kv5_0)"><text id="v5_0" x="494.47" y="448.3" font-size="24" textLength="58.2" lengthAdjust="spacingAndGlyphs" style="stroke:none">20.0</text></g>
<text x="908.6" y="448.3" font-size="24" textLength="58.1" lengthAdjust="spacingAndGlyphs" style="fill:none">80.0</text><clipPath id="kv5_1"><text x="908.82" y="448.3" font-size="24" textLength="58.1" lengthAdjust="spacingAndGlyphs" style="stroke:none">80.0</text></clipPath><g clip-path="url(#kv5_1)"><text id="v5_1" x="908.37" y="448.3" font-size="24" textLength="58.1" lengthAdjust="spacingAndGlyphs" style="stroke:none">80.0</text></g>
<text x="417.6" y="512.9" font-size="24" textLength="41.3" lengthAdjust="spacingAndGlyphs" style="fill:none">0.0</text><clipPath id="kt0"><text x="417.83" y="512.9" font-size="24" textLength="41.3" lengthAdjust="spacingAndGlyphs" style="stroke:none">0.0</text></clipPath><g clip-path="url(#kt0)"><text id="t0" x="417.38" y="512.9" font-size="24" textLength="41.3" lengthAdjust="spacingAndGlyphs" style="stroke:none">0.0</text></g>
<text x="495.2" y="512.9" font-size="24" textLength="56.9" lengthAdjust="spacingAndGlyphs" style="fill:none">10.0</text><clipPath id="kt1"><text x="495.43" y="512.9" font-size="24" textLength="56.9" lengthAdjust="spacingAndGlyphs" style="stroke:none">10.0</text></clipPath><g clip-path="url(#kt1)"><text id="t1" x="494.97" y="512.9" font-size="24" textLength="56.9" lengthAdjust="spacingAndGlyphs" style="stroke:none">10.0</text></g>
<text x="579.5" y="512.9" font-size="24" textLength="57.6" lengthAdjust="spacingAndGlyphs" style="fill:none">20.0</text><clipPath id="kt2"><text x="579.73" y="512.9" font-size="24" textLength="57.6" lengthAdjust="spacingAndGlyphs" style="stroke:none">20.0</text></clipPath><g clip-path="url(#kt2)"><text id="t2" x="579.27" y="512.9" font-size="24" textLength="57.6" lengthAdjust="spacingAndGlyphs" style="stroke:none">20.0</text></g>
<text x="663.8" y="512.9" font-size="24" textLength="57.5" lengthAdjust="spacingAndGlyphs" style="fill:none">30.0</text><clipPath id="kt3"><text x="664.02" y="512.9" font-size="24" textLength="57.5" lengthAdjust="spacingAndGlyphs" style="stroke:none">30.0</text></clipPath><g clip-path="url(#kt3)"><text id="t3" x="663.57" y="512.9" font-size="24" textLength="57.5" lengthAdjust="spacingAndGlyphs" style="stroke:none">30.0</text></g>
<text x="748.1" y="512.9" font-size="24" textLength="57.4" lengthAdjust="spacingAndGlyphs" style="fill:none">40.0</text><clipPath id="kt4"><text x="748.33" y="512.9" font-size="24" textLength="57.4" lengthAdjust="spacingAndGlyphs" style="stroke:none">40.0</text></clipPath><g clip-path="url(#kt4)"><text id="t4" x="747.88" y="512.9" font-size="24" textLength="57.4" lengthAdjust="spacingAndGlyphs" style="stroke:none">40.0</text></g>
<text x="833.3" y="512.9" font-size="24" textLength="56" lengthAdjust="spacingAndGlyphs" style="fill:none">50.0</text><clipPath id="kt5"><text x="833.52" y="512.9" font-size="24" textLength="56" lengthAdjust="spacingAndGlyphs" style="stroke:none">50.0</text></clipPath><g clip-path="url(#kt5)"><text id="t5" x="833.07" y="512.9" font-size="24" textLength="56" lengthAdjust="spacingAndGlyphs" style="stroke:none">50.0</text></g>
<text x="916.1" y="512.9" font-size="24" textLength="58.3" lengthAdjust="spacingAndGlyphs" style="fill:none">60.0</text><clipPath id="kt6"><text x="916.33" y="512.9" font-size="24" textLength="58.3" lengthAdjust="spacingAndGlyphs" style="stroke:none">60.0</text></clipPath><g clip-path="url(#kt6)"><text id="t6" x="915.88" y="512.9" font-size="24" textLength="58.3" lengthAdjust="spacingAndGlyphs" style="stroke:none">60.0</text></g>
<text x="1000.7" y="512.9" font-size="24" textLength="57.5" lengthAdjust="spacingAndGlyphs" style="fill:none">70.0</text><clipPath id="kt7"><text x="1000.93" y="512.9" font-size="24" textLength="57.5" lengthAdjust="spacingAndGlyphs" style="stroke:none">70.0</text></clipPath><g clip-path="url(#kt7)"><text id="t7" x="1000.48" y="512.9" font-size="24" textLength="57.5" lengthAdjust="spacingAndGlyphs" style="stroke:none">70.0</text></g>
<text x="1084.6" y="512.9" font-size="24" textLength="58.4" lengthAdjust="spacingAndGlyphs" style="fill:none">80.0</text><clipPath id="kt8"><text x="1084.83" y="512.9" font-size="24" textLength="58.4" lengthAdjust="spacingAndGlyphs" style="stroke:none">80.0</text></clipPath><g clip-path="url(#kt8)"><text id="t8" x="1084.38" y="512.9" font-size="24" textLength="58.4" lengthAdjust="spacingAndGlyphs" style="stroke:none">80.0</text></g>
<text x="1170" y="512.9" font-size="24" textLength="56.7" lengthAdjust="spacingAndGlyphs" style="fill:none">90.0</text><clipPath id="kt9"><text x="1170.22" y="512.9" font-size="24" textLength="56.7" lengthAdjust="spacingAndGlyphs" style="stroke:none">90.0</text></clipPath><g clip-path="url(#kt9)"><text id="t9" x="1169.78" y="512.9" font-size="24" textLength="56.7" lengthAdjust="spacingAndGlyphs" style="stroke:none">90.0</text></g>
<text x="1255.7" y="512.9" font-size="24" textLength="50.9" lengthAdjust="spacingAndGlyphs" style="fill:none">100</text><clipPath id="kt10"><text x="1255.92" y="512.9" font-size="24" textLength="50.9" lengthAdjust="spacingAndGlyphs" style="stroke:none">100</text></clipPath><g clip-path="url(#kt10)"><text id="t10" x="1255.48" y="512.9" font-size="24" textLength="50.9" lengthAdjust="spacingAndGlyphs" style="stroke:none">100</text></g>
<text x="746.2" y="566.2" font-size="32.4" textLength="31.3" lengthAdjust="spacingAndGlyphs" style="fill:none">%</text><clipPath id="kxt0"><text x="746.33" y="566.2" font-size="32.4" textLength="31.3" lengthAdjust="spacingAndGlyphs" style="stroke:none">%</text></clipPath><g clip-path="url(#kxt0)"><text id="xt0" x="746.08" y="566.2" font-size="32.4" textLength="31.3" lengthAdjust="spacingAndGlyphs" style="stroke:none">%</text></g>
<text x="783.8" y="566.2" font-size="32.4" textLength="195.2" lengthAdjust="spacingAndGlyphs" style="fill:none">respondents</text><clipPath id="kxt1"><text x="783.92" y="566.2" font-size="32.4" textLength="195.2" lengthAdjust="spacingAndGlyphs" style="stroke:none">respondents</text></clipPath><g clip-path="url(#kxt1)"><text id="xt1" x="783.67" y="566.2" font-size="32.4" textLength="195.2" lengthAdjust="spacingAndGlyphs" style="stroke:none">respondents</text></g>
<rect x="90" y="592" width="16.2" height="15.6" fill="#80522e"/><text x="111.1" y="607" font-size="23.4" textLength="50" lengthAdjust="spacingAndGlyphs" style="fill:none">Low</text><clipPath id="klg0_0"><text x="111.22" y="607" font-size="23.4" textLength="50" lengthAdjust="spacingAndGlyphs" style="stroke:none">Low</text></clipPath><g clip-path="url(#klg0_0)"><text id="lg0_0" x="110.97" y="607" font-size="23.4" textLength="50" lengthAdjust="spacingAndGlyphs" style="stroke:none">Low</text></g>
<text x="167.6" y="607" font-size="23.4" textLength="135.8" lengthAdjust="spacingAndGlyphs" style="fill:none">prevalence,</text><clipPath id="klg0_1"><text x="167.72" y="607" font-size="23.4" textLength="135.8" lengthAdjust="spacingAndGlyphs" style="stroke:none">prevalence,</text></clipPath><g clip-path="url(#klg0_1)"><text id="lg0_1" x="167.47" y="607" font-size="23.4" textLength="135.8" lengthAdjust="spacingAndGlyphs" style="stroke:none">prevalence,</text></g>
<text x="306.7" y="607" font-size="23.4" textLength="49.7" lengthAdjust="spacingAndGlyphs" style="fill:none">high</text><clipPath id="klg0_2"><text x="306.83" y="607" font-size="23.4" textLength="49.7" lengthAdjust="spacingAndGlyphs" style="stroke:none">high</text></clipPath><g clip-path="url(#klg0_2)"><text id="lg0_2" x="306.58" y="607" font-size="23.4" textLength="49.7" lengthAdjust="spacingAndGlyphs" style="stroke:none">high</text></g>
<text x="360.8" y="607" font-size="23.4" textLength="74.1" lengthAdjust="spacingAndGlyphs" style="fill:none">unmet</text><clipPath id="klg0_3"><text x="360.92" y="607" font-size="23.4" textLength="74.1" lengthAdjust="spacingAndGlyphs" style="stroke:none">unmet</text></clipPath><g clip-path="url(#klg0_3)"><text id="lg0_3" x="360.67" y="607" font-size="23.4" textLength="74.1" lengthAdjust="spacingAndGlyphs" style="stroke:none">unmet</text></g>
<text x="440.2" y="607" font-size="23.4" textLength="59.4" lengthAdjust="spacingAndGlyphs" style="fill:none">need</text><clipPath id="klg0_4"><text x="440.32" y="607" font-size="23.4" textLength="59.4" lengthAdjust="spacingAndGlyphs" style="stroke:none">need</text></clipPath><g clip-path="url(#klg0_4)"><text id="lg0_4" x="440.07" y="607" font-size="23.4" textLength="59.4" lengthAdjust="spacingAndGlyphs" style="stroke:none">need</text></g>
<rect x="90" y="630.4" width="16.2" height="15.6" fill="#9b683b"/><text x="111.2" y="645.5" font-size="23.4" textLength="115" lengthAdjust="spacingAndGlyphs" style="fill:none">Moderate</text><clipPath id="klg1_0"><text x="111.32" y="645.5" font-size="23.4" textLength="115" lengthAdjust="spacingAndGlyphs" style="stroke:none">Moderate</text></clipPath><g clip-path="url(#klg1_0)"><text id="lg1_0" x="111.07" y="645.5" font-size="23.4" textLength="115" lengthAdjust="spacingAndGlyphs" style="stroke:none">Moderate</text></g>
<text x="231.6" y="645.5" font-size="23.4" textLength="134.8" lengthAdjust="spacingAndGlyphs" style="fill:none">prevalence,</text><clipPath id="klg1_1"><text x="231.73" y="645.5" font-size="23.4" textLength="134.8" lengthAdjust="spacingAndGlyphs" style="stroke:none">prevalence,</text></clipPath><g clip-path="url(#klg1_1)"><text id="lg1_1" x="231.48" y="645.5" font-size="23.4" textLength="134.8" lengthAdjust="spacingAndGlyphs" style="stroke:none">prevalence,</text></g>
<text x="369.3" y="645.5" font-size="23.4" textLength="113.8" lengthAdjust="spacingAndGlyphs" style="fill:none">moderate</text><clipPath id="klg1_2"><text x="369.42" y="645.5" font-size="23.4" textLength="113.8" lengthAdjust="spacingAndGlyphs" style="stroke:none">moderate</text></clipPath><g clip-path="url(#klg1_2)"><text id="lg1_2" x="369.17" y="645.5" font-size="23.4" textLength="113.8" lengthAdjust="spacingAndGlyphs" style="stroke:none">moderate</text></g>
<text x="487.6" y="645.5" font-size="23.4" textLength="74.7" lengthAdjust="spacingAndGlyphs" style="fill:none">unmet</text><clipPath id="klg1_3"><text x="487.73" y="645.5" font-size="23.4" textLength="74.7" lengthAdjust="spacingAndGlyphs" style="stroke:none">unmet</text></clipPath><g clip-path="url(#klg1_3)"><text id="lg1_3" x="487.48" y="645.5" font-size="23.4" textLength="74.7" lengthAdjust="spacingAndGlyphs" style="stroke:none">unmet</text></g>
<text x="568.1" y="645.5" font-size="23.4" textLength="59.1" lengthAdjust="spacingAndGlyphs" style="fill:none">need</text><clipPath id="klg1_4"><text x="568.23" y="645.5" font-size="23.4" textLength="59.1" lengthAdjust="spacingAndGlyphs" style="stroke:none">need</text></clipPath><g clip-path="url(#klg1_4)"><text id="lg1_4" x="567.98" y="645.5" font-size="23.4" textLength="59.1" lengthAdjust="spacingAndGlyphs" style="stroke:none">need</text></g>
<rect x="90" y="668.6" width="16.2" height="15.6" fill="#bf8e5b"/><text x="111.3" y="684" font-size="23.4" textLength="53.9" lengthAdjust="spacingAndGlyphs" style="fill:none">High</text><clipPath id="klg2_0"><text x="111.42" y="684" font-size="23.4" textLength="53.9" lengthAdjust="spacingAndGlyphs" style="stroke:none">High</text></clipPath><g clip-path="url(#klg2_0)"><text id="lg2_0" x="111.17" y="684" font-size="23.4" textLength="53.9" lengthAdjust="spacingAndGlyphs" style="stroke:none">High</text></g>
<text x="169.6" y="684" font-size="23.4" textLength="135.3" lengthAdjust="spacingAndGlyphs" style="fill:none">prevalence,</text><clipPath id="klg2_1"><text x="169.72" y="684" font-size="23.4" textLength="135.3" lengthAdjust="spacingAndGlyphs" style="stroke:none">prevalence,</text></clipPath><g clip-path="url(#klg2_1)"><text id="lg2_1" x="169.47" y="684" font-size="23.4" textLength="135.3" lengthAdjust="spacingAndGlyphs" style="stroke:none">prevalence,</text></g>
<text x="308.3" y="684" font-size="23.4" textLength="40.7" lengthAdjust="spacingAndGlyphs" style="fill:none">low</text><clipPath id="klg2_2"><text x="308.43" y="684" font-size="23.4" textLength="40.7" lengthAdjust="spacingAndGlyphs" style="stroke:none">low</text></clipPath><g clip-path="url(#klg2_2)"><text id="lg2_2" x="308.18" y="684" font-size="23.4" textLength="40.7" lengthAdjust="spacingAndGlyphs" style="stroke:none">low</text></g>
<text x="355.6" y="684" font-size="23.4" textLength="73.9" lengthAdjust="spacingAndGlyphs" style="fill:none">unmet</text><clipPath id="klg2_3"><text x="355.73" y="684" font-size="23.4" textLength="73.9" lengthAdjust="spacingAndGlyphs" style="stroke:none">unmet</text></clipPath><g clip-path="url(#klg2_3)"><text id="lg2_3" x="355.48" y="684" font-size="23.4" textLength="73.9" lengthAdjust="spacingAndGlyphs" style="stroke:none">unmet</text></g>
<text x="434.7" y="684" font-size="23.4" textLength="59.8" lengthAdjust="spacingAndGlyphs" style="fill:none">need</text><clipPath id="klg2_4"><text x="434.82" y="684" font-size="23.4" textLength="59.8" lengthAdjust="spacingAndGlyphs" style="stroke:none">need</text></clipPath><g clip-path="url(#klg2_4)"><text id="lg2_4" x="434.57" y="684" font-size="23.4" textLength="59.8" lengthAdjust="spacingAndGlyphs" style="stroke:none">need</text></g>
<rect x="612.71" y="377.91" width="2.2" height="3.6" fill="#ffffff"/><rect x="637.05" y="377.91" width="2.2" height="3.6" fill="#ffffff"/><rect x="1031.92" y="377.91" width="2.2" height="3.6" fill="#ffffff"/><rect x="1056.56" y="377.91" width="2.2" height="3.6" fill="#ffffff"/><rect x="518.31" y="437.91" width="2.2" height="3.6" fill="#ffffff"/><rect x="543.25" y="437.91" width="2.2" height="3.6" fill="#ffffff"/><rect x="932.17" y="437.91" width="2.2" height="3.6" fill="#ffffff"/><rect x="957.06" y="437.91" width="2.2" height="3.6" fill="#ffffff"/><rect x="424.55" y="502.51" width="2.2" height="3.6" fill="#ffffff"/><rect x="449.31" y="502.51" width="2.2" height="3.6" fill="#ffffff"/><rect x="518.26" y="502.51" width="2.2" height="3.6" fill="#ffffff"/><rect x="542.63" y="502.51" width="2.2" height="3.6" fill="#ffffff"/><rect x="602.86" y="502.51" width="2.2" height="3.6" fill="#ffffff"/><rect x="627.53" y="502.51" width="2.2" height="3.6" fill="#ffffff"/><rect x="687.11" y="502.51" width="2.2" height="3.6" fill="#ffffff"/><rect x="711.75" y="502.51" width="2.2" height="3.6" fill="#ffffff"/><rect x="771.38" y="502.51" width="2.2" height="3.6" fill="#ffffff"/><rect x="795.97" y="502.51" width="2.2" height="3.6" fill="#ffffff"/><rect x="855.97" y="502.51" width="2.2" height="3.6" fill="#ffffff"/><rect x="879.96" y="502.51" width="2.2" height="3.6" fill="#ffffff"/><rect x="939.77" y="502.51" width="2.2" height="3.6" fill="#ffffff"/><rect x="964.74" y="502.51" width="2.2" height="3.6" fill="#ffffff"/><rect x="1024.02" y="502.51" width="2.2" height="3.6" fill="#ffffff"/><rect x="1048.66" y="502.51" width="2.2" height="3.6" fill="#ffffff"/><rect x="1108.31" y="502.51" width="2.2" height="3.6" fill="#ffffff"/><rect x="1133.33" y="502.51" width="2.2" height="3.6" fill="#ffffff"/><rect x="1192.98" y="502.51" width="2.2" height="3.6" fill="#ffffff"/><rect x="1217.27" y="502.51" width="2.2" height="3.6" fill="#ffffff"/><rect x="1279.83" y="502.51" width="2.2" height="3.6" fill="#ffffff"/><rect x="1296.79" y="502.51" width="2.2" height="3.6" fill="#ffffff"/>
<g transform="translate(87.1,0) rotate(-90)"><text x="-390.6" y="0" font-size="31.8" textLength="124.7" lengthAdjust="spacingAndGlyphs" style="fill:none">Therapy</text><clipPath id="kyt0"><text x="-390.48" y="0" font-size="31.8" textLength="124.7" lengthAdjust="spacingAndGlyphs" style="stroke:none">Therapy</text></clipPath><g clip-path="url(#kyt0)"><text id="yt0" x="-390.73" y="0" font-size="31.8" textLength="124.7" lengthAdjust="spacingAndGlyphs" style="stroke:none">Therapy</text></g>
<text x="-259.7" y="0" font-size="31.8" textLength="68.5" lengthAdjust="spacingAndGlyphs" style="fill:none">area</text><clipPath id="kyt1"><text x="-259.57" y="0" font-size="31.8" textLength="68.5" lengthAdjust="spacingAndGlyphs" style="stroke:none">area</text></clipPath><g clip-path="url(#kyt1)"><text id="yt1" x="-259.82" y="0" font-size="31.8" textLength="68.5" lengthAdjust="spacingAndGlyphs" style="stroke:none">area</text></g>
</g>
</g>
<g id="icons">
<path d="M406.94 109.5h12.78v2.13h-12.78zM404.81 111.63h17.04v2.13h-17.04zM402.68 113.76h21.3v2.13h-21.3zM400.55 115.89h25.56v2.13h-25.56zM398.42 118.02h27.69v2.13h-27.69zM398.42 120.15h29.82v2.13h-29.82zM398.42 122.28h29.82v2.13h-29.82zM398.42 124.41h29.82v2.13h-29.82zM396.29 126.54h34.08v2.13h-34.08zM396.29 128.67h34.08v2.13h-34.08zM396.29 130.8h34.08v2.13h-34.08zM398.42 132.93h29.82v2.13h-29.82zM398.42 135.06h29.82v2.13h-29.82zM398.42 137.19h29.82v2.13h-29.82zM400.55 139.32h25.56v2.13h-25.56zM400.55 141.45h25.56v2.13h-25.56zM398.42 143.58h29.82v2.13h-29.82zM396.29 145.71h34.08v2.13h-34.08zM394.16 147.84h36.21v2.13h-36.21zM389.9 149.97h44.73v2.13h-44.73zM389.9 152.1h46.86v2.13h-46.86zM392.03 154.23h17.04v2.13h-17.04zM417.59 154.23h17.04v2.13h-17.04zM394.16 156.36h14.91v2.13h-14.91zM417.59 156.36h14.91v2.13h-14.91zM396.29 158.49h10.65v2.13h-10.65zM419.72 158.49h10.65v2.13h-10.65zM398.42 160.62h6.39v2.13h-6.39zM421.85 160.62h6.39v2.13h-6.39zM398.42 162.75h4.26v2.13h-4.26zM421.85 162.75h6.39v2.13h-6.39z" fill="#955d2e"/><path d="M406.94 111.63h12.78v2.13h-12.78zM404.81 113.76h17.04v2.13h-17.04zM402.68 115.89h21.3v2.13h-21.3zM400.55 118.02h23.43v2.13h-23.43zM400.55 120.15h25.56v2.13h-25.56zM400.55 122.28h25.56v2.13h-25.56zM400.55 124.41h25.56v2.13h-25.56zM398.42 126.54h29.82v2.13h-29.82zM398.42 128.67h29.82v2.13h-29.82zM398.42 130.8h29.82v2.13h-29.82zM400.55 132.93h25.56v2.13h-25.56zM400.55 135.06h25.56v2.13h-25.56zM400.55 137.19h25.56v2.13h-25.56zM402.68 139.32h21.3v2.13h-21.3zM402.68 141.45h21.3v2.13h-21.3zM400.55 143.58h25.56v2.13h-25.56zM398.42 145.71h29.82v2.13h-29.82zM396.29 147.84h31.95v2.13h-31.95zM394.16 149.97h36.21v2.13h-36.21zM392.03 152.1h17.04v2.13h-17.04zM417.59 152.1h17.04v2.13h-17.04zM394.16 154.23h12.78v2.13h-12.78zM419.72 154.23h12.78v2.13h-12.78zM396.29 156.36h10.65v2.13h-10.65zM419.72 156.36h10.65v2.13h-10.65zM398.42 158.49h6.39v2.13h-6.39zM421.85 158.49h6.39v2.13h-6.39zM400.55 160.62h2.13v2.13h-2.13zM423.98 160.62h2.13v2.13h-2.13z" fill="#d3a168"/><path d="M406.94 113.76h12.78v2.13h-12.78zM404.81 115.89h17.04v2.13h-17.04zM402.68 118.02h19.17v2.13h-19.17zM402.68 120.15h21.3v2.13h-21.3zM402.68 122.28h21.3v2.13h-21.3zM402.68 124.41h21.3v2.13h-21.3zM400.55 126.54h25.56v2.13h-25.56zM400.55 128.67h25.56v2.13h-25.56zM400.55 130.8h25.56v2.13h-25.56zM402.68 132.93h21.3v2.13h-21.3zM402.68 135.06h21.3v2.13h-21.3zM402.68 137.19h21.3v2.13h-21.3zM404.81 139.32h17.04v2.13h-17.04zM404.81 141.45h17.04v2.13h-17.04zM402.68 143.58h21.3v2.13h-21.3zM400.55 145.71h25.56v2.13h-25.56zM398.42 147.84h27.69v2.13h-27.69zM396.29 149.97h12.78v2.13h-12.78zM417.59 149.97h10.65v2.13h-10.65zM394.16 152.1h12.78v2.13h-12.78zM419.72 152.1h10.65v2.13h-10.65zM396.29 154.23h8.52v2.13h-8.52zM421.85 154.23h8.52v2.13h-8.52zM398.42 156.36h6.39v2.13h-6.39zM421.85 156.36h6.39v2.13h-6.39zM400.55 158.49h2.13v2.13h-2.13zM423.98 158.49h2.13v2.13h-2.13z" fill="#c28d57"/><path d="M404.81 115.89h14.91v2.13h-14.91zM406.94 118.02h12.78v2.13h-12.78zM406.94 120.15h12.78v2.13h-12.78zM409.07 122.28h8.52v2.13h-8.52z" fill="#a87440"/><path d="M411.2 130.8h4.26v2.13h-4.26zM402.68 137.19h2.13v2.13h-2.13zM404.81 139.32h2.13v2.13h-2.13zM406.94 143.58h2.13v2.13h-2.13zM409.07 145.71h2.13v2.13h-2.13zM411.2 147.84h2.13v2.13h-2.13z" fill="#d3a168"/><path d="M413.33 132.93h2.13v2.13h-2.13zM415.46 135.06h4.26v2.13h-4.26zM404.81 141.45h2.13v2.13h-2.13zM406.94 143.58h2.13v2.13h-2.13zM409.07 145.71h2.13v2.13h-2.13zM411.2 147.84h2.13v2.13h-2.13z" fill="#a87440"/><path d="M411.2 122.28h4.26v2.13h-4.26z" fill="#d3a168"/><path d="M409.07 124.41h6.39v2.13h-6.39zM409.07 126.54h6.39v2.13h-6.39zM411.2 128.67h2.13v2.13h-2.13z" fill="#96643a"/><path d="M411.2 126.54h2.13v2.13h-2.13z" fill="#3b2518"/>
<path d="M399.65 170.6h12.78v2.13h-12.78zM397.52 172.73h17.04v2.13h-17.04zM395.39 174.86h21.3v2.13h-21.3zM393.26 176.99h25.56v2.13h-25.56zM391.13 179.12h31.95v2.13h-31.95zM389 181.25h34.08v2.13h-34.08zM389 183.38h34.08v2.13h-34.08zM389 185.51h34.08v2.13h-34.08zM389 187.64h34.08v2.13h-34.08zM389 189.77h34.08v2.13h-34.08zM389 191.9h34.08v2.13h-34.08zM389 194.03h34.08v2.13h-34.08zM391.13 196.16h29.82v2.13h-29.82zM393.26 198.29h29.82v2.13h-29.82zM395.39 200.42h31.95v2.13h-31.95zM397.52 202.55h31.95v2.13h-31.95zM399.65 204.68h12.78v2.13h-12.78zM416.69 204.68h14.91v2.13h-14.91zM418.82 206.81h14.91v2.13h-14.91zM418.82 208.94h14.91v2.13h-14.91zM420.95 211.07h12.78v2.13h-12.78zM423.08 213.2h8.52v2.13h-8.52zM425.21 215.33h4.26v2.13h-4.26z" fill="#955d2e"/><path d="M399.65 172.73h12.78v2.13h-12.78zM397.52 174.86h17.04v2.13h-17.04zM395.39 176.99h21.3v2.13h-21.3zM393.26 179.12h25.56v2.13h-25.56zM391.13 181.25h29.82v2.13h-29.82zM391.13 183.38h29.82v2.13h-29.82zM391.13 185.51h29.82v2.13h-29.82zM391.13 187.64h29.82v2.13h-29.82zM391.13 189.77h29.82v2.13h-29.82zM391.13 191.9h29.82v2.13h-29.82zM391.13 194.03h29.82v2.13h-29.82zM393.26 196.16h25.56v2.13h-25.56zM395.39 198.29h25.56v2.13h-25.56zM397.52 200.42h25.56v2.13h-25.56zM399.65 202.55h12.78v2.13h-12.78zM416.69 202.55h10.65v2.13h-10.65zM418.82 204.68h10.65v2.13h-10.65zM420.95 206.81h10.65v2.13h-10.65zM420.95 208.94h10.65v2.13h-10.65zM423.08 211.07h8.52v2.13h-8.52zM425.21 213.2h4.26v2.13h-4.26z" fill="#d3a168"/><path d="M399.65 174.86h12.78v2.13h-12.78zM397.52 176.99h17.04v2.13h-17.04zM395.39 179.12h21.3v2.13h-21.3zM393.26 181.25h25.56v2.13h-25.56zM393.26 183.38h25.56v2.13h-25.56zM393.26 185.51h25.56v2.13h-25.56zM393.26 187.64h25.56v2.13h-25.56zM393.26 189.77h25.56v2.13h-25.56zM393.26 191.9h25.56v2.13h-25.56zM393.26 194.03h25.56v2.13h-25.56zM395.39 196.16h21.3v2.13h-21.3zM397.52 198.29h21.3v2.13h-21.3zM399.65 200.42h12.78v2.13h-12.78zM416.69 200.42h4.26v2.13h-4.26zM418.82 202.55h4.26v2.13h-4.26zM420.95 204.68h6.39v2.13h-6.39zM423.08 206.81h6.39v2.13h-6.39zM423.08 208.94h6.39v2.13h-6.39zM425.21 211.07h4.26v2.13h-4.26z" fill="#c28d57"/><path d="M401.78 174.86h8.52v2.13h-8.52zM397.52 176.99h17.04v2.13h-17.04zM395.39 179.12h21.3v2.13h-21.3zM393.26 181.25h25.56v2.13h-25.56zM393.26 183.38h25.56v2.13h-25.56zM393.26 185.51h25.56v2.13h-25.56zM393.26 187.64h25.56v2.13h-25.56zM393.26 189.77h25.56v2.13h-25.56zM393.26 191.9h25.56v2.13h-25.56zM395.39 194.03h21.3v2.13h-21.3zM395.39 196.16h21.3v2.13h-21.3zM399.65 198.29h12.78v2.13h-12.78z" fill="#b9844e"/><path d="M401.78 176.99h8.52v2.13h-8.52zM399.65 179.12h12.78v2.13h-12.78zM397.52 181.25h17.04v2.13h-17.04zM395.39 183.38h21.3v2.13h-21.3zM395.39 185.51h21.3v2.13h-21.3zM395.39 187.64h21.3v2.13h-21.3zM395.39 189.77h21.3v2.13h-21.3zM395.39 191.9h21.3v2.13h-21.3zM397.52 194.03h17.04v2.13h-17.04zM399.65 196.16h12.78v2.13h-12.78z" fill="#cf9c63"/><path d="M401.78 179.12h8.52v2.13h-8.52zM399.65 181.25h14.91v2.13h-14.91zM397.52 183.38h17.04v2.13h-17.04zM397.52 185.51h19.17v2.13h-19.17zM397.52 187.64h19.17v2.13h-19.17zM397.52 189.77h19.17v2.13h-19.17zM397.52 191.9h17.04v2.13h-17.04zM399.65 194.03h14.91v2.13h-14.91zM401.78 196.16h8.52v2.13h-8.52z" fill="#c9955e"/><path d="M418.82 202.55h4.26v2.13h-4.26zM420.95 204.68h6.39v2.13h-6.39zM423.08 206.81h6.39v2.13h-6.39zM425.21 208.94h4.26v2.13h-4.26zM427.34 211.07h2.13v2.13h-2.13z" fill="#b07a44"/>
<path d="M423.68 234.4h2.13v2.13h-2.13zM421.55 236.53h6.39v2.13h-6.39zM419.42 238.66h10.65v2.13h-10.65zM410.9 240.79h6.39v2.13h-6.39zM421.55 240.79h10.65v2.13h-10.65zM410.9 242.92h8.52v2.13h-8.52zM421.55 242.92h12.78v2.13h-12.78zM413.03 245.05h23.43v2.13h-23.43zM410.9 247.18h14.91v2.13h-14.91zM427.94 247.18h6.39v2.13h-6.39zM408.77 249.31h17.04v2.13h-17.04zM430.07 249.31h2.13v2.13h-2.13zM406.64 251.44h21.3v2.13h-21.3zM404.51 253.57h25.56v2.13h-25.56zM402.38 255.7h27.69v2.13h-27.69zM400.25 257.83h21.3v2.13h-21.3zM425.81 257.83h2.13v2.13h-2.13zM398.12 259.96h21.3v2.13h-21.3zM398.12 262.09h19.17v2.13h-19.17zM398.12 264.22h17.04v2.13h-17.04zM393.86 266.35h19.17v2.13h-19.17zM391.73 268.48h19.17v2.13h-19.17zM393.86 270.61h10.65v2.13h-10.65zM393.86 272.74h8.52v2.13h-8.52zM391.73 274.87h10.65v2.13h-10.65zM389.6 277h6.39v2.13h-6.39zM389.6 279.13h4.26v2.13h-4.26z" fill="#955d2e"/><path d="M423.68 236.53h2.13v2.13h-2.13zM421.55 238.66h6.39v2.13h-6.39zM423.68 240.79h6.39v2.13h-6.39zM413.03 242.92h4.26v2.13h-4.26zM423.68 242.92h8.52v2.13h-8.52zM415.16 245.05h4.26v2.13h-4.26zM421.55 245.05h4.26v2.13h-4.26zM427.94 245.05h6.39v2.13h-6.39zM413.03 247.18h10.65v2.13h-10.65zM430.07 247.18h2.13v2.13h-2.13zM410.9 249.31h12.78v2.13h-12.78zM408.77 251.44h17.04v2.13h-17.04zM406.64 253.57h21.3v2.13h-21.3zM404.51 255.7h17.04v2.13h-17.04zM425.81 255.7h2.13v2.13h-2.13zM402.38 257.83h17.04v2.13h-17.04zM400.25 259.96h17.04v2.13h-17.04zM400.25 262.09h14.91v2.13h-14.91zM400.25 264.22h12.78v2.13h-12.78zM398.12 266.35h12.78v2.13h-12.78zM393.86 268.48h10.65v2.13h-10.65zM395.99 270.61h6.39v2.13h-6.39zM395.99 272.74h4.26v2.13h-4.26zM393.86 274.87h2.13v2.13h-2.13zM391.73 277h2.13v2.13h-2.13z" fill="#d09b62"/><path d="M417.29 251.44h4.26v2.13h-4.26zM415.16 253.57h6.39v2.13h-6.39zM413.03 255.7h8.52v2.13h-8.52zM410.9 257.83h8.52v2.13h-8.52zM408.77 259.96h8.52v2.13h-8.52zM406.64 262.09h8.52v2.13h-8.52zM404.51 264.22h8.52v2.13h-8.52zM404.51 266.35h6.39v2.13h-6.39z" fill="#b5804a"/><path d="M413.03 242.92h4.26v2.13h-4.26zM415.16 245.05h4.26v2.13h-4.26zM417.29 247.18h4.26v2.13h-4.26zM419.42 249.31h4.26v2.13h-4.26zM421.55 251.44h4.26v2.13h-4.26zM423.68 253.57h4.26v2.13h-4.26zM425.81 255.7h2.13v2.13h-2.13z" fill="#b5804a"/><path d="M400.25 264.22h2.13v2.13h-2.13zM398.12 266.35h6.39v2.13h-6.39zM395.99 268.48h8.52v2.13h-8.52zM398.12 270.61h4.26v2.13h-4.26z" fill="#b07a44"/><path d="M427.94 240.79h2.13v2.13h-2.13zM425.81 242.92h6.39v2.13h-6.39zM427.94 245.05h6.39v2.13h-6.39zM430.07 247.18h2.13v2.13h-2.13z" fill="#bb8650"/><path d="M425.81 247.18h2.13v2.13h-2.13z" fill="#3b2518"/><path d="M419.42 240.79h2.13v2.13h-2.13z" fill="#6a4526"/>
<path d="M409.17 299.3h17.04v2.13h-17.04zM396.39 301.43h36.21v2.13h-36.21zM394.26 303.56h40.47v2.13h-40.47zM394.26 305.69h42.6v2.13h-42.6zM392.13 307.82h44.73v2.13h-44.73zM390 309.95h44.73v2.13h-44.73zM390 312.08h44.73v2.13h-44.73zM390 314.21h42.6v2.13h-42.6zM390 316.34h40.47v2.13h-40.47zM390 318.47h40.47v2.13h-40.47zM390 320.6h38.34v2.13h-38.34zM390 322.73h36.21v2.13h-36.21zM390 324.86h34.08v2.13h-34.08zM392.13 326.99h12.78v2.13h-12.78zM394.26 329.12h8.52v2.13h-8.52zM396.39 331.25h4.26v2.13h-4.26z" fill="#955d2e"/><path d="M409.17 301.43h17.04v2.13h-17.04zM396.39 303.56h36.21v2.13h-36.21zM396.39 305.69h38.34v2.13h-38.34zM394.26 307.82h40.47v2.13h-40.47zM392.13 309.95h40.47v2.13h-40.47zM392.13 312.08h40.47v2.13h-40.47zM392.13 314.21h38.34v2.13h-38.34zM392.13 316.34h36.21v2.13h-36.21zM392.13 318.47h36.21v2.13h-36.21zM392.13 320.6h34.08v2.13h-34.08zM392.13 322.73h31.95v2.13h-31.95zM392.13 324.86h12.78v2.13h-12.78zM394.26 326.99h8.52v2.13h-8.52zM396.39 329.12h4.26v2.13h-4.26z" fill="#d3a168"/><path d="M409.17 303.56h17.04v2.13h-17.04zM398.52 305.69h34.08v2.13h-34.08zM396.39 307.82h36.21v2.13h-36.21zM394.26 309.95h36.21v2.13h-36.21zM394.26 312.08h36.21v2.13h-36.21zM394.26 314.21h34.08v2.13h-34.08zM394.26 316.34h31.95v2.13h-31.95zM394.26 318.47h31.95v2.13h-31.95zM394.26 320.6h29.82v2.13h-29.82zM394.26 322.73h10.65v2.13h-10.65zM394.26 324.86h8.52v2.13h-8.52zM396.39 326.99h4.26v2.13h-4.26z" fill="#c28d57"/><path d="M398.52 305.69h19.17v2.13h-19.17zM396.39 307.82h21.3v2.13h-21.3zM396.39 309.95h21.3v2.13h-21.3zM396.39 312.08h21.3v2.13h-21.3zM396.39 314.21h21.3v2.13h-21.3zM396.39 316.34h21.3v2.13h-21.3zM396.39 318.47h19.17v2.13h-19.17zM396.39 320.6h17.04v2.13h-17.04zM396.39 322.73h8.52v2.13h-8.52z" fill="#b8834d"/><path d="M419.82 305.69h12.78v2.13h-12.78zM419.82 307.82h12.78v2.13h-12.78zM419.82 309.95h10.65v2.13h-10.65zM419.82 312.08h10.65v2.13h-10.65zM419.82 314.21h8.52v2.13h-8.52zM419.82 316.34h6.39v2.13h-6.39z" fill="#b8834d"/><path d="M411.3 303.56h12.78v2.13h-12.78zM417.69 305.69h2.13v2.13h-2.13zM417.69 307.82h2.13v2.13h-2.13zM417.69 309.95h2.13v2.13h-2.13zM417.69 312.08h2.13v2.13h-2.13zM417.69 314.21h2.13v2.13h-2.13zM417.69 316.34h2.13v2.13h-2.13zM415.56 318.47h6.39v2.13h-6.39z" fill="#d3a168"/>
<path d="M400.92 355.55h6.64v2.21h-6.64zM418.63 355.55h6.64v2.21h-6.64zM396.49 357.76h13.28v2.21h-13.28zM416.42 357.76h13.28v2.21h-13.28zM394.28 359.98h17.71v2.21h-17.71zM414.2 359.98h17.71v2.21h-17.71zM392.06 362.19h19.93v2.21h-19.93zM414.2 362.19h19.93v2.21h-19.93zM392.06 364.41h42.07v2.21h-42.07zM389.85 366.62h46.49v2.21h-46.49zM389.85 368.83h46.49v2.21h-46.49zM389.85 371.05h46.49v2.21h-46.49zM392.06 373.26h42.07v2.21h-42.07zM394.28 375.48h37.64v2.21h-37.64zM396.49 377.69h33.21v2.21h-33.21zM398.71 379.9h28.78v2.21h-28.78zM400.92 382.12h24.35v2.21h-24.35zM403.13 384.33h19.93v2.21h-19.93zM405.35 386.55h15.5v2.21h-15.5zM407.56 388.76h11.07v2.21h-11.07zM409.78 390.97h6.64v2.21h-6.64zM411.99 393.19h2.21v2.21h-2.21z" fill="#955d2e"/><path d="M400.92 357.76h6.64v2.21h-6.64zM418.63 357.76h6.64v2.21h-6.64zM396.49 359.98h13.28v2.21h-13.28zM416.42 359.98h13.28v2.21h-13.28zM394.28 362.19h15.5v2.21h-15.5zM416.42 362.19h15.5v2.21h-15.5zM394.28 364.41h17.71v2.21h-17.71zM414.2 364.41h17.71v2.21h-17.71zM392.06 366.62h42.07v2.21h-42.07zM392.06 368.83h42.07v2.21h-42.07zM392.06 371.05h42.07v2.21h-42.07zM394.28 373.26h37.64v2.21h-37.64zM396.49 375.48h33.21v2.21h-33.21zM398.71 377.69h28.78v2.21h-28.78zM400.92 379.9h24.35v2.21h-24.35zM403.13 382.12h19.93v2.21h-19.93zM405.35 384.33h15.5v2.21h-15.5zM407.56 386.55h11.07v2.21h-11.07zM409.78 388.76h6.64v2.21h-6.64zM411.99 390.97h2.21v2.21h-2.21z" fill="#d3a168"/><path d="M400.92 359.98h6.64v2.21h-6.64zM418.63 359.98h6.64v2.21h-6.64zM396.49 362.19h11.07v2.21h-11.07zM418.63 362.19h11.07v2.21h-11.07zM396.49 364.41h13.28v2.21h-13.28zM416.42 364.41h13.28v2.21h-13.28zM394.28 366.62h17.71v2.21h-17.71zM414.2 366.62h17.71v2.21h-17.71zM394.28 368.83h37.64v2.21h-37.64zM394.28 371.05h37.64v2.21h-37.64zM396.49 373.26h33.21v2.21h-33.21zM398.71 375.48h28.78v2.21h-28.78zM400.92 377.69h24.35v2.21h-24.35zM403.13 379.9h19.93v2.21h-19.93zM405.35 382.12h15.5v2.21h-15.5zM407.56 384.33h11.07v2.21h-11.07zM409.78 386.55h6.64v2.21h-6.64zM411.99 388.76h2.21v2.21h-2.21z" fill="#c28d57"/><path d="M418.63 368.83h13.28v2.21h-13.28zM418.63 371.05h13.28v2.21h-13.28zM418.63 373.26h11.07v2.21h-11.07zM416.42 375.48h11.07v2.21h-11.07zM416.42 377.69h8.86v2.21h-8.86zM416.42 379.9h6.64v2.21h-6.64zM414.2 382.12h6.64v2.21h-6.64zM414.2 384.33h4.43v2.21h-4.43zM414.2 386.55h2.21v2.21h-2.21z" fill="#bc8751"/>
<path d="M411.4 415.2h4.26v2.13h-4.26zM409.27 417.33h8.52v2.13h-8.52zM409.27 419.46h8.52v2.13h-8.52zM405.01 421.59h17.04v2.13h-17.04zM400.75 423.72h23.43v2.13h-23.43zM398.62 425.85h27.69v2.13h-27.69zM396.49 427.98h31.95v2.13h-31.95zM394.36 430.11h36.21v2.13h-36.21zM394.36 432.24h38.34v2.13h-38.34zM392.23 434.37h42.6v2.13h-42.6zM392.23 436.5h42.6v2.13h-42.6zM390.1 438.63h46.86v2.13h-46.86zM390.1 440.76h46.86v2.13h-46.86zM390.1 442.89h46.86v2.13h-46.86zM390.1 445.02h46.86v2.13h-46.86zM390.1 447.15h46.86v2.13h-46.86zM390.1 449.28h21.3v2.13h-21.3zM415.66 449.28h21.3v2.13h-21.3zM390.1 451.41h21.3v2.13h-21.3zM415.66 451.41h21.3v2.13h-21.3zM392.23 453.54h17.04v2.13h-17.04zM417.79 453.54h17.04v2.13h-17.04zM394.36 455.67h12.78v2.13h-12.78zM419.92 455.67h10.65v2.13h-10.65z" fill="#955d2e"/><path d="M411.4 417.33h4.26v2.13h-4.26zM411.4 419.46h4.26v2.13h-4.26zM409.27 421.59h8.52v2.13h-8.52zM405.01 423.72h17.04v2.13h-17.04zM400.75 425.85h23.43v2.13h-23.43zM398.62 427.98h27.69v2.13h-27.69zM396.49 430.11h31.95v2.13h-31.95zM396.49 432.24h34.08v2.13h-34.08zM394.36 434.37h38.34v2.13h-38.34zM394.36 436.5h38.34v2.13h-38.34zM392.23 438.63h42.6v2.13h-42.6zM392.23 440.76h42.6v2.13h-42.6zM392.23 442.89h42.6v2.13h-42.6zM392.23 445.02h42.6v2.13h-42.6zM392.23 447.15h19.17v2.13h-19.17zM415.66 447.15h19.17v2.13h-19.17zM392.23 449.28h17.04v2.13h-17.04zM417.79 449.28h17.04v2.13h-17.04zM392.23 451.41h17.04v2.13h-17.04zM417.79 451.41h17.04v2.13h-17.04zM394.36 453.54h12.78v2.13h-12.78zM419.92 453.54h10.65v2.13h-10.65z" fill="#d3a168"/><path d="M411.4 421.59h4.26v2.13h-4.26zM409.27 423.72h8.52v2.13h-8.52zM405.01 425.85h17.04v2.13h-17.04zM400.75 427.98h23.43v2.13h-23.43zM398.62 430.11h27.69v2.13h-27.69zM398.62 432.24h29.82v2.13h-29.82zM396.49 434.37h34.08v2.13h-34.08zM396.49 436.5h34.08v2.13h-34.08zM394.36 438.63h38.34v2.13h-38.34zM394.36 440.76h38.34v2.13h-38.34zM394.36 442.89h38.34v2.13h-38.34zM394.36 445.02h17.04v2.13h-17.04zM415.66 445.02h17.04v2.13h-17.04zM394.36 447.15h14.91v2.13h-14.91zM417.79 447.15h14.91v2.13h-14.91zM394.36 449.28h12.78v2.13h-12.78zM419.92 449.28h12.78v2.13h-12.78zM394.36 451.41h12.78v2.13h-12.78zM419.92 451.41h10.65v2.13h-10.65z" fill="#c28d57"/><path d="M407.14 432.24h2.13v2.13h-2.13zM417.79 432.24h2.13v2.13h-2.13zM400.75 434.37h8.52v2.13h-8.52zM417.79 434.37h6.39v2.13h-6.39zM398.62 436.5h2.13v2.13h-2.13zM402.88 436.5h2.13v2.13h-2.13zM407.14 436.5h2.13v2.13h-2.13zM417.79 436.5h10.65v2.13h-10.65zM398.62 438.63h2.13v2.13h-2.13zM402.88 438.63h2.13v2.13h-2.13zM407.14 438.63h2.13v2.13h-2.13zM417.79 438.63h2.13v2.13h-2.13zM422.05 438.63h2.13v2.13h-2.13zM426.31 438.63h2.13v2.13h-2.13zM400.75 440.76h8.52v2.13h-8.52zM417.79 440.76h2.13v2.13h-2.13zM422.05 440.76h2.13v2.13h-2.13zM400.75 442.89h4.26v2.13h-4.26zM407.14 442.89h2.13v2.13h-2.13zM417.79 442.89h2.13v2.13h-2.13zM422.05 442.89h4.26v2.13h-4.26zM398.62 445.02h2.13v2.13h-2.13zM402.88 445.02h2.13v2.13h-2.13zM407.14 445.02h2.13v2.13h-2.13zM417.79 445.02h4.26v2.13h-4.26zM424.18 445.02h4.26v2.13h-4.26z" fill="#a5713e"/><path d="M411.4 434.37h4.26v2.13h-4.26zM411.4 436.5h4.26v2.13h-4.26zM411.4 438.63h4.26v2.13h-4.26zM411.4 440.76h4.26v2.13h-4.26zM411.4 442.89h4.26v2.13h-4.26zM411.4 445.02h4.26v2.13h-4.26zM411.4 447.15h2.13v2.13h-2.13z" fill="#8e5c30"/><path d="M411.4 419.46h2.13v2.13h-2.13zM411.4 421.59h2.13v2.13h-2.13zM411.4 423.72h2.13v2.13h-2.13zM411.4 425.85h2.13v2.13h-2.13zM411.4 427.98h2.13v2.13h-2.13zM411.4 430.11h2.13v2.13h-2.13z" fill="#b07a44"/><path d="M409.27 421.59h2.13v2.13h-2.13zM415.66 421.59h2.13v2.13h-2.13zM409.27 423.72h2.13v2.13h-2.13zM415.66 423.72h2.13v2.13h-2.13zM409.27 425.85h2.13v2.13h-2.13zM415.66 425.85h2.13v2.13h-2.13zM409.27 427.98h2.13v2.13h-2.13zM415.66 427.98h2.13v2.13h-2.13zM409.27 430.11h2.13v2.13h-2.13zM415.66 430.11h2.13v2.13h-2.13z" fill="#d3a168"/><path d="M409.27 421.59h2.13v2.13h-2.13zM415.66 421.59h2.13v2.13h-2.13zM409.27 423.72h2.13v2.13h-2.13zM415.66 423.72h2.13v2.13h-2.13zM409.27 425.85h2.13v2.13h-2.13zM415.66 425.85h2.13v2.13h-2.13zM407.14 427.98h4.26v2.13h-4.26zM415.66 427.98h2.13v2.13h-2.13zM407.14 430.11h2.13v2.13h-2.13zM417.79 430.11h2.13v2.13h-2.13z" fill="#9a6434"/><path d="M394.36 449.28h14.91v2.13h-14.91zM417.79 449.28h14.91v2.13h-14.91z" fill="#d3a168"/><path d="M394.36 451.41h12.78v2.13h-12.78zM419.92 451.41h10.65v2.13h-10.65z" fill="#b07a44"/>
</g>
</svg>
</body></html>
